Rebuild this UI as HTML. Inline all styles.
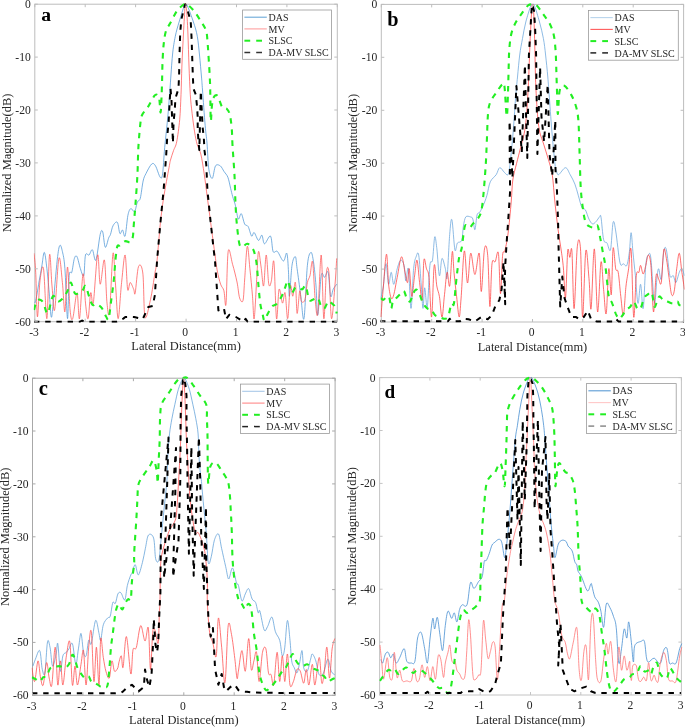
<!DOCTYPE html><html><head><meta charset="utf-8"><style>html,body{margin:0;padding:0;background:#fff;}svg{display:block;will-change:transform}text{font-family:"Liberation Serif",serif;fill:#262626}</style></head><body>
<svg width="685" height="727" viewBox="0 0 685 727">
<rect width="685" height="727" fill="#fff"/>
<g>
<rect x="34.8" y="4.2" width="302.5" height="317.5" fill="none" stroke="#bdbdbd" stroke-width="1"/>
<clipPath id="cpa"><rect x="33.8" y="1.2000000000000002" width="304.5" height="321.5"/></clipPath>
<g clip-path="url(#cpa)" fill="none" stroke-linejoin="round">
<path d="M34.9,303.0C35.2,301.9 35.9,299.9 36.6,296.2C37.3,292.5 38.4,285.7 39.2,280.8C40.1,275.9 40.9,271.7 41.7,267.0C42.6,262.3 43.4,252.1 44.3,252.4C45.2,252.7 46.0,261.4 46.9,268.7C47.8,276.0 48.8,288.2 49.5,296.2C50.2,304.2 50.6,315.1 51.2,316.8C51.8,318.5 51.9,315.9 52.9,306.5C53.9,297.1 56.1,270.3 57.2,260.1C58.4,249.9 58.9,246.9 59.8,245.5C60.7,244.1 61.5,247.6 62.4,251.5C63.2,255.4 64.1,257.5 64.9,268.7C65.8,279.9 66.8,317.5 67.5,318.6C68.2,319.8 68.5,283.3 69.2,275.6C69.9,267.9 70.9,275.1 71.8,272.2C72.7,269.3 73.5,261.0 74.4,258.4C75.3,255.8 76.0,255.0 77.0,256.7C78.0,258.4 79.3,265.5 80.4,268.7C81.5,271.9 83.0,277.9 83.8,275.6C84.6,273.3 84.6,258.4 85.5,255.0C86.4,251.6 87.8,255.9 89.0,255.0C90.2,254.1 91.2,249.0 92.4,249.8C93.6,250.7 94.6,262.7 95.9,260.1C97.2,257.5 99.1,239.1 100.2,234.4C101.3,229.7 101.9,229.7 102.7,231.8C103.5,234.0 104.3,246.3 105.3,247.3C106.3,248.3 107.8,240.0 108.7,237.8C109.6,235.7 109.8,236.4 110.5,234.4C111.2,232.4 111.9,227.8 113.0,225.8C114.1,223.8 116.1,221.0 117.3,222.3C118.5,223.6 119.0,232.2 119.9,233.5C120.8,234.8 121.6,229.6 122.5,230.0C123.4,230.4 124.2,238.4 125.1,236.0C126.0,233.6 127.0,219.9 127.9,215.3C128.9,210.7 129.7,209.2 130.8,208.6C131.9,208.0 133.5,212.6 134.6,211.5C135.7,210.4 136.4,204.2 137.4,202.0C138.4,199.8 139.4,201.7 140.3,198.2C141.2,194.7 142.2,185.2 143.1,181.1C144.0,177.0 144.6,176.3 146.0,173.5C147.4,170.7 150.1,165.3 151.7,164.0C153.3,162.7 154.1,163.7 155.5,165.9C156.9,168.1 159.0,176.0 160.2,177.3C161.4,178.6 161.8,178.9 162.6,173.9C163.3,168.9 163.8,157.5 164.7,147.6C165.6,137.7 167.1,125.0 168.0,114.7C168.9,104.4 169.4,96.0 170.2,86.0C170.9,76.0 171.7,63.3 172.5,55.0C173.3,46.7 174.2,41.8 175.3,36.3C176.4,30.8 177.6,27.0 179.1,22.0C180.6,17.0 183.1,8.9 184.1,6.0C185.1,3.1 184.6,4.4 185.2,4.4C185.8,4.4 186.0,3.1 187.4,6.0C188.8,8.9 191.8,17.0 193.4,22.0C195.1,27.0 196.3,30.8 197.3,36.3C198.3,41.8 198.8,48.2 199.5,55.0C200.2,61.8 201.0,71.2 201.5,77.0C202.0,82.8 201.9,81.9 202.5,90.0C203.1,98.1 204.4,116.9 205.2,125.7C205.9,134.6 206.4,135.8 207.0,143.1C207.6,150.4 208.0,163.8 208.9,169.7C209.8,175.6 211.2,178.9 212.3,178.3C213.4,177.7 214.2,168.0 215.5,165.9C216.8,163.8 218.9,165.0 220.3,165.9C221.7,166.8 222.8,169.7 224.1,171.6C225.4,173.5 226.8,174.5 227.9,177.3C229.0,180.2 229.9,185.5 230.7,188.7C231.5,191.9 231.8,193.5 232.6,196.3C233.4,199.2 234.6,202.0 235.5,205.8C236.4,209.6 237.3,217.7 238.3,219.0C239.3,220.3 240.2,212.8 241.3,213.7C242.4,214.5 243.5,221.9 244.7,224.1C245.8,226.2 247.0,224.6 248.2,226.6C249.3,228.6 250.6,235.1 251.6,236.1C252.6,237.1 253.0,231.9 254.2,232.6C255.3,233.3 257.2,240.0 258.5,240.4C259.8,240.8 260.9,234.6 261.9,235.2C262.9,235.8 263.1,243.7 264.5,243.8C265.9,244.0 269.1,234.8 270.5,236.1C271.9,237.4 272.0,248.9 273.1,251.5C274.2,254.1 275.7,249.9 277.4,251.5C279.1,253.1 281.8,260.7 283.4,261.0C285.0,261.3 285.9,251.4 286.8,253.3C287.7,255.2 288.1,265.1 288.5,272.2C288.9,279.3 288.8,297.3 289.4,296.2C290.0,295.1 291.0,271.9 292.0,265.3C293.0,258.7 294.5,256.1 295.4,256.7C296.2,257.3 296.2,262.4 297.1,268.7C298.0,275.0 299.5,286.2 300.6,294.5C301.8,302.8 302.9,323.5 304.0,318.6C305.1,313.7 306.2,276.3 307.4,265.3C308.5,254.3 309.9,253.0 310.9,252.4C311.9,251.8 312.6,256.3 313.5,261.9C314.4,267.5 315.3,277.0 316.0,285.9C316.7,294.8 316.9,316.8 317.8,315.1C318.7,313.4 320.1,281.9 321.2,275.6C322.3,269.3 323.5,277.9 324.6,277.3C325.8,276.7 327.1,269.1 328.1,272.2C329.1,275.3 329.8,293.3 330.6,296.2C331.5,299.1 332.2,291.3 333.2,289.3C334.2,287.3 336.1,285.1 336.7,284.2" stroke="#4f97d6" stroke-width="0.85" opacity="0.9"/>
<path d="M34.0,253.3C34.3,256.4 35.1,261.6 35.7,272.2C36.3,282.8 36.7,315.4 37.4,316.8C38.1,318.2 39.0,288.8 40.0,280.8C41.0,272.8 42.4,262.4 43.5,268.7C44.6,275.0 45.9,320.9 46.9,318.6C47.9,316.3 48.6,260.4 49.5,255.0C50.4,249.5 51.1,276.7 52.0,285.9C52.9,295.1 53.5,314.6 54.6,310.0C55.8,305.4 57.6,263.0 58.9,258.4C60.2,253.8 61.4,273.6 62.4,282.5C63.4,291.4 64.1,314.3 64.9,311.7C65.8,309.1 66.6,267.3 67.5,267.0C68.4,266.7 69.2,301.4 70.1,310.0C71.0,318.6 71.5,321.5 72.7,318.6C73.9,315.7 75.9,292.8 77.0,292.8C78.1,292.8 78.5,321.8 79.5,318.6C80.5,315.5 82.0,276.5 83.0,273.9C84.0,271.3 84.7,295.7 85.5,303.1C86.3,310.6 87.2,320.3 88.1,318.6C89.0,316.9 89.8,295.4 90.7,292.8C91.6,290.2 92.2,309.4 93.3,303.1C94.4,296.8 96.4,258.1 97.6,255.0C98.8,251.8 99.1,283.3 100.2,284.2C101.3,285.1 103.3,257.0 104.4,260.1C105.5,263.2 106.1,294.5 107.0,303.1C107.9,311.7 108.6,320.0 109.6,311.7C110.6,303.4 112.0,257.6 113.0,253.3C114.0,249.0 114.7,275.0 115.6,285.9C116.5,296.8 117.2,319.2 118.2,318.6C119.2,318.0 120.4,293.1 121.6,282.5C122.8,271.9 124.1,253.9 125.1,255.0C126.1,256.1 126.8,284.7 127.6,289.3C128.4,293.9 129.2,282.5 130.2,282.5C131.2,282.5 132.9,287.6 133.7,289.3C134.5,291.0 134.4,296.7 135.2,292.9C136.0,289.1 137.2,269.9 138.5,266.6C139.8,263.3 141.7,264.6 142.8,273.0C143.9,281.4 143.7,312.6 145.0,317.0C146.3,321.4 148.8,306.8 150.5,299.5C152.2,292.2 153.8,279.8 154.9,273.2C156.0,266.6 156.2,268.4 157.1,260.0C158.0,251.6 159.3,233.1 160.4,222.8C161.5,212.5 162.2,207.2 163.6,198.0C165.0,188.8 167.9,173.6 169.1,167.3C170.2,161.0 169.8,162.8 170.5,160.0C171.2,157.2 172.6,153.4 173.6,150.4C174.6,147.4 175.7,147.0 176.7,141.8C177.7,136.7 179.0,127.3 179.7,119.5C180.4,111.7 180.6,103.6 181.0,94.7C181.4,85.8 181.5,76.3 181.9,66.0C182.3,55.7 183.0,42.9 183.5,33.0C184.0,23.1 184.7,11.4 185.0,6.6C185.3,1.8 185.0,4.4 185.2,4.4C185.4,4.4 185.9,1.8 186.3,6.6C186.8,11.4 187.5,23.1 187.9,33.0C188.3,42.9 188.6,55.7 189.0,66.0C189.4,76.3 189.8,86.8 190.3,94.7C190.8,102.6 191.4,107.1 192.1,113.3C192.8,119.5 193.8,126.8 194.6,131.9C195.4,137.1 196.1,140.5 197.1,144.2C198.1,147.9 199.6,149.1 200.8,154.0C202.0,158.9 203.1,166.6 204.2,173.9C205.3,181.2 206.3,189.8 207.4,198.0C208.5,206.2 209.4,213.2 210.7,222.8C212.0,232.4 214.0,247.7 215.1,255.7C216.2,263.7 216.4,266.2 217.3,271.0C218.2,275.8 219.5,280.9 220.6,284.2C221.7,287.5 223.0,287.4 223.9,290.7C224.8,294.0 225.3,310.6 226.0,304.0C226.7,297.4 227.1,257.9 228.2,251.3C229.3,244.7 231.1,259.3 232.6,264.4C234.1,269.5 235.8,276.4 237.0,282.0C238.2,287.6 238.6,294.8 239.6,297.9C240.6,301.0 242.2,303.6 243.0,300.5C243.8,297.4 244.0,288.0 244.7,279.0C245.4,270.0 246.4,248.1 247.3,246.4C248.2,244.7 249.0,260.4 249.9,268.7C250.8,277.0 251.8,287.9 252.5,296.2C253.2,304.5 253.5,321.8 254.2,318.6C254.9,315.5 256.1,288.5 256.8,277.3C257.5,266.1 257.8,253.2 258.5,251.5C259.2,249.8 260.2,261.3 261.1,267.0C262.0,272.7 262.8,287.9 263.6,285.9C264.5,283.9 265.3,255.3 266.2,255.0C267.1,254.7 267.9,279.9 268.8,284.2C269.7,288.5 270.5,284.5 271.4,280.8C272.2,277.1 273.0,255.6 273.9,261.9C274.8,268.2 275.6,314.0 276.5,318.6C277.4,323.2 278.1,291.9 279.1,289.3C280.1,286.7 281.5,302.5 282.5,303.1C283.5,303.7 284.2,290.2 285.1,292.8C286.0,295.4 286.8,319.8 287.7,318.6C288.6,317.5 289.4,289.6 290.3,285.9C291.2,282.2 292.0,296.8 292.8,296.2C293.6,295.6 294.7,279.6 295.4,282.5C296.1,285.4 296.4,312.0 297.1,313.4C297.8,314.8 299.0,293.0 299.7,291.0C300.4,289.0 300.5,299.9 301.4,301.4C302.3,302.8 303.9,302.8 304.9,299.7C305.9,296.6 306.5,286.5 307.4,282.5C308.2,278.5 309.1,279.0 310.0,275.6C310.9,272.2 311.7,257.9 312.6,261.9C313.5,265.9 314.3,291.1 315.2,299.7C316.1,308.3 316.8,320.8 317.8,313.4C318.8,305.9 320.2,254.1 321.2,255.0C322.2,255.9 322.9,315.5 323.8,318.6C324.7,321.8 325.5,281.6 326.3,273.9C327.1,266.2 328.0,264.8 328.9,272.2C329.8,279.6 330.5,316.3 331.5,318.6C332.5,320.9 334.0,295.9 334.9,285.9C335.8,275.9 336.4,263.0 336.7,258.4" stroke="#ff5252" stroke-width="0.85" opacity="0.88"/>
<path d="M34.0,310.0C34.4,308.6 35.6,303.1 36.6,301.4C37.6,299.7 38.9,299.4 40.0,299.7C41.1,300.0 42.2,300.8 43.5,303.1C44.8,305.4 46.1,314.5 47.7,313.4C49.3,312.2 51.2,298.2 52.9,296.2C54.6,294.2 56.5,301.0 58.1,301.4C59.7,301.8 60.8,300.5 62.4,298.8C64.0,297.1 66.1,293.7 67.5,291.0C68.9,288.3 69.6,282.1 70.9,282.5C72.2,282.9 73.3,292.2 75.2,293.6C77.1,295.0 80.4,292.3 82.1,291.0C83.8,289.7 84.3,285.0 85.5,285.9C86.7,286.8 87.8,293.0 89.0,296.2C90.2,299.4 91.1,303.5 92.4,304.8C93.7,306.1 95.1,303.4 96.7,304.0C98.3,304.6 100.3,306.1 101.9,308.2C103.5,310.3 105.1,315.1 106.2,316.8C107.3,318.5 107.9,321.5 108.7,318.6C109.5,315.8 110.4,306.3 111.3,299.7C112.2,293.1 113.2,285.9 113.9,279.0C114.6,272.1 115.0,263.8 115.6,258.4C116.2,253.0 116.6,248.6 117.3,246.4C118.0,244.2 118.6,246.4 119.9,245.5C121.2,244.6 123.4,241.8 125.1,241.2C126.8,240.6 128.9,242.8 130.2,242.1C131.5,241.4 132.2,239.6 132.8,236.9C133.4,234.2 133.2,231.3 133.7,225.8C134.1,220.3 134.9,212.3 135.5,203.9C136.1,195.5 136.9,184.9 137.4,175.4C137.9,165.9 137.9,155.4 138.4,146.9C138.9,138.4 139.7,129.6 140.3,124.2C140.9,118.8 140.9,117.6 142.2,114.7C143.5,111.8 145.8,110.3 147.9,107.1C150.0,103.9 152.9,97.7 154.5,95.7C156.1,93.7 156.7,94.5 157.5,95.0C158.3,95.5 158.8,96.1 159.3,99.0C159.8,101.9 160.2,112.7 160.6,112.5C161.0,112.3 161.3,101.8 161.5,98.0C161.7,94.2 161.7,93.0 161.8,90.0C161.9,87.0 162.0,84.9 162.1,80.0C162.2,75.1 162.3,66.5 162.6,60.5C162.9,54.5 163.1,49.0 163.7,44.0C164.3,39.0 164.9,34.3 166.0,30.8C167.1,27.3 168.5,26.4 170.3,23.1C172.1,19.8 174.8,14.0 176.9,11.0C179.0,8.0 181.6,6.1 183.0,5.0C184.4,3.9 184.4,4.2 185.2,4.2C186.0,4.2 186.5,3.9 188.0,5.0C189.5,6.1 191.9,8.4 194.0,11.0C196.1,13.6 198.6,17.6 200.6,20.9C202.6,24.2 204.9,26.9 206.1,30.8C207.3,34.6 207.2,39.0 207.7,44.0C208.1,49.0 208.4,54.5 208.8,60.5C209.2,66.5 209.7,74.1 209.9,80.0C210.2,85.9 210.2,88.8 210.3,95.7C210.5,102.6 210.5,119.8 210.8,121.3C211.1,122.8 211.5,109.0 212.0,105.0C212.5,101.0 212.7,99.1 213.6,97.6C214.5,96.0 216.0,94.1 217.4,95.7C218.8,97.3 220.6,104.9 222.2,107.1C223.8,109.3 225.6,107.7 226.9,109.0C228.2,110.3 229.0,111.5 229.8,114.7C230.6,117.9 231.2,122.6 231.7,128.0C232.2,133.4 232.1,139.0 232.6,146.9C233.1,154.8 234.0,165.9 234.5,175.4C235.0,184.9 235.1,195.5 235.5,203.9C235.9,212.3 236.3,219.0 237.0,225.8C237.7,232.6 238.6,241.3 239.6,244.7C240.6,248.1 241.7,246.6 243.0,246.4C244.3,246.2 245.7,243.5 247.3,243.8C248.9,244.1 251.2,246.2 252.5,248.1C253.8,250.0 254.3,252.1 255.0,255.0C255.7,257.9 256.2,260.2 256.8,265.3C257.4,270.4 257.9,279.6 258.5,285.9C259.1,292.2 259.5,298.2 260.2,303.1C260.9,308.0 262.1,312.2 262.8,315.1C263.5,318.0 263.6,320.6 264.5,320.3C265.4,320.0 266.6,315.7 267.9,313.4C269.2,311.1 270.8,308.1 272.2,306.5C273.6,304.9 274.9,305.7 276.5,304.0C278.1,302.3 280.3,298.9 281.7,296.2C283.1,293.5 284.1,290.2 285.1,287.6C286.1,285.0 286.8,280.5 287.7,280.8C288.6,281.1 289.6,287.3 290.3,289.3C291.0,291.3 291.1,293.1 292.0,292.8C292.9,292.5 294.2,288.5 295.4,287.6C296.5,286.7 297.8,287.3 298.9,287.6C300.0,287.9 301.2,289.6 302.3,289.3C303.4,289.0 304.6,284.2 305.7,285.9C306.8,287.6 308.0,297.4 309.2,299.7C310.4,302.0 311.2,300.0 312.6,299.7C314.0,299.4 316.4,296.8 317.8,297.9C319.2,299.0 320.1,304.8 321.2,306.5C322.3,308.2 323.5,309.1 324.6,308.2C325.8,307.3 327.0,302.2 328.1,301.4C329.2,300.5 330.4,302.2 331.5,303.1C332.6,304.0 334.0,304.8 334.9,306.5C335.8,308.2 336.4,312.2 336.7,313.4" stroke="#22ee22" stroke-width="2.1" opacity="1" stroke-dasharray="5.5 5.6"/>
<polyline points="34.0,321.7 80.0,321.7 82.1,320.5 84.0,321.7 116.6,321.7 123.3,318.6 125.3,317.0 130.2,316.8 134.1,317.0 142.8,319.0 148.3,307.0 152.7,306.0 154.9,295.0 157.1,260.0 160.4,222.8 163.6,190.0 166.1,156.6 166.8,144.2 167.4,134.3 168.6,123.2 169.2,110.8 169.8,99.7 170.5,88.6 171.5,100.0 172.9,143.0 173.6,122.0 174.8,109.6 175.4,98.5 178.5,88.6 179.1,75.0 179.5,55.0 180.2,33.0 181.3,19.8 184.6,6.0 185.2,4.4 185.8,5.0 187.4,9.9 190.7,20.9 191.6,38.5 192.3,60.5 192.9,77.0 193.4,88.6 195.8,94.7 197.1,107.0 197.7,117.0 197.7,128.0 198.3,139.3 199.3,150.0 200.8,91.0 201.4,103.4 202.0,114.5 202.6,126.9 203.9,139.3 204.5,150.4 206.3,165.0 207.4,190.0 210.7,222.8 215.1,262.3 218.4,310.4 223.9,308.2 226.0,319.2 229.3,314.8 235.9,317.0 243.6,321.7 245.6,318.8 247.6,321.7 337.0,321.7" stroke="#000000" stroke-width="2.0" opacity="1" stroke-dasharray="5.4 5.8"/>
</g>
<line x1="34.8" y1="321.7" x2="34.8" y2="318.7" stroke="#bdbdbd" stroke-width="1"/>
<line x1="34.8" y1="4.2" x2="34.8" y2="7.2" stroke="#bdbdbd" stroke-width="1"/>
<text x="34.0" y="336.0" font-size="11.6" text-anchor="middle">-3</text>
<line x1="85.2" y1="321.7" x2="85.2" y2="318.7" stroke="#bdbdbd" stroke-width="1"/>
<line x1="85.2" y1="4.2" x2="85.2" y2="7.2" stroke="#bdbdbd" stroke-width="1"/>
<text x="84.4" y="336.0" font-size="11.6" text-anchor="middle">-2</text>
<line x1="135.6" y1="321.7" x2="135.6" y2="318.7" stroke="#bdbdbd" stroke-width="1"/>
<line x1="135.6" y1="4.2" x2="135.6" y2="7.2" stroke="#bdbdbd" stroke-width="1"/>
<text x="134.8" y="336.0" font-size="11.6" text-anchor="middle">-1</text>
<line x1="186.1" y1="321.7" x2="186.1" y2="318.7" stroke="#bdbdbd" stroke-width="1"/>
<line x1="186.1" y1="4.2" x2="186.1" y2="7.2" stroke="#bdbdbd" stroke-width="1"/>
<text x="185.2" y="336.0" font-size="11.6" text-anchor="middle">0</text>
<line x1="236.5" y1="321.7" x2="236.5" y2="318.7" stroke="#bdbdbd" stroke-width="1"/>
<line x1="236.5" y1="4.2" x2="236.5" y2="7.2" stroke="#bdbdbd" stroke-width="1"/>
<text x="235.7" y="336.0" font-size="11.6" text-anchor="middle">1</text>
<line x1="286.9" y1="321.7" x2="286.9" y2="318.7" stroke="#bdbdbd" stroke-width="1"/>
<line x1="286.9" y1="4.2" x2="286.9" y2="7.2" stroke="#bdbdbd" stroke-width="1"/>
<text x="286.1" y="336.0" font-size="11.6" text-anchor="middle">2</text>
<line x1="337.3" y1="321.7" x2="337.3" y2="318.7" stroke="#bdbdbd" stroke-width="1"/>
<line x1="337.3" y1="4.2" x2="337.3" y2="7.2" stroke="#bdbdbd" stroke-width="1"/>
<text x="336.5" y="336.0" font-size="11.6" text-anchor="middle">3</text>
<line x1="34.8" y1="4.2" x2="37.8" y2="4.2" stroke="#bdbdbd" stroke-width="1"/>
<line x1="337.3" y1="4.2" x2="334.3" y2="4.2" stroke="#bdbdbd" stroke-width="1"/>
<text x="30.8" y="8.2" font-size="11.6" text-anchor="end">0</text>
<line x1="34.8" y1="57.1" x2="37.8" y2="57.1" stroke="#bdbdbd" stroke-width="1"/>
<line x1="337.3" y1="57.1" x2="334.3" y2="57.1" stroke="#bdbdbd" stroke-width="1"/>
<text x="30.8" y="61.1" font-size="11.6" text-anchor="end">-10</text>
<line x1="34.8" y1="110.0" x2="37.8" y2="110.0" stroke="#bdbdbd" stroke-width="1"/>
<line x1="337.3" y1="110.0" x2="334.3" y2="110.0" stroke="#bdbdbd" stroke-width="1"/>
<text x="30.8" y="114.0" font-size="11.6" text-anchor="end">-20</text>
<line x1="34.8" y1="162.9" x2="37.8" y2="162.9" stroke="#bdbdbd" stroke-width="1"/>
<line x1="337.3" y1="162.9" x2="334.3" y2="162.9" stroke="#bdbdbd" stroke-width="1"/>
<text x="30.8" y="166.9" font-size="11.6" text-anchor="end">-30</text>
<line x1="34.8" y1="215.9" x2="37.8" y2="215.9" stroke="#bdbdbd" stroke-width="1"/>
<line x1="337.3" y1="215.9" x2="334.3" y2="215.9" stroke="#bdbdbd" stroke-width="1"/>
<text x="30.8" y="219.9" font-size="11.6" text-anchor="end">-40</text>
<line x1="34.8" y1="268.8" x2="37.8" y2="268.8" stroke="#bdbdbd" stroke-width="1"/>
<line x1="337.3" y1="268.8" x2="334.3" y2="268.8" stroke="#bdbdbd" stroke-width="1"/>
<text x="30.8" y="272.8" font-size="11.6" text-anchor="end">-50</text>
<line x1="34.8" y1="321.7" x2="37.8" y2="321.7" stroke="#bdbdbd" stroke-width="1"/>
<line x1="337.3" y1="321.7" x2="334.3" y2="321.7" stroke="#bdbdbd" stroke-width="1"/>
<text x="30.8" y="325.7" font-size="11.6" text-anchor="end">-60</text>
<text x="186.1" y="350.3" font-size="12.45" text-anchor="middle">Lateral Distance(mm)</text>
<text transform="translate(10.8,162.9) rotate(-90)" font-size="12.45" text-anchor="middle">Normalized Magnitude(dB)</text>
<text x="41.3" y="21.2" font-size="19.7" font-weight="bold" style="fill:#000">a</text>
<rect x="242.6" y="10.0" width="88.9" height="49.3" fill="#fff" stroke="#9a9a9a" stroke-width="0.8"/>
<line x1="244.4" y1="17.2" x2="266.8" y2="17.2" stroke="#6aa8d8" stroke-width="1.1"/>
<text x="268.5" y="20.8" font-size="10">DAS</text>
<line x1="244.4" y1="28.9" x2="266.8" y2="28.9" stroke="#ffa0a0" stroke-width="1.1"/>
<text x="268.5" y="32.5" font-size="10">MV</text>
<line x1="244.4" y1="40.7" x2="250.2" y2="40.7" stroke="#22ee22" stroke-width="2.0"/>
<line x1="256.2" y1="40.7" x2="262.0" y2="40.7" stroke="#22ee22" stroke-width="2.0"/>
<text x="268.5" y="44.3" font-size="10">SLSC</text>
<line x1="244.4" y1="52.5" x2="250.2" y2="52.5" stroke="#333333" stroke-width="1.5"/>
<line x1="256.2" y1="52.5" x2="262.0" y2="52.5" stroke="#333333" stroke-width="1.5"/>
<text x="268.5" y="56.1" font-size="10">DA-MV SLSC</text>
<rect x="381.3" y="4.4" width="302.3" height="317.6" fill="none" stroke="#bdbdbd" stroke-width="1"/>
<clipPath id="cpb"><rect x="380.3" y="1.4000000000000004" width="304.3" height="321.6"/></clipPath>
<g clip-path="url(#cpb)" fill="none" stroke-linejoin="round">
<path d="M380.9,298.1C381.3,296.1 382.5,291.7 383.4,286.0C384.2,280.3 385.1,264.0 386.0,263.7C386.9,263.4 387.7,282.9 388.6,284.3C389.5,285.7 390.3,272.3 391.2,272.3C392.1,272.3 392.8,284.9 393.8,284.3C394.8,283.7 396.1,272.8 397.2,268.8C398.3,264.8 399.5,260.8 400.7,260.2C401.9,259.6 403.2,261.9 404.1,265.4C405.0,268.8 405.1,280.3 405.8,280.9C406.5,281.5 407.5,264.2 408.4,268.8C409.3,273.4 410.1,308.4 411.0,308.4C411.9,308.4 412.8,277.4 413.6,268.8C414.5,260.2 415.2,259.1 416.1,256.8C417.0,254.5 417.8,250.2 418.7,255.1C419.6,260.0 420.6,277.1 421.3,286.0C422.0,294.9 422.4,308.1 423.0,308.4C423.6,308.7 424.0,288.1 424.7,287.8C425.4,287.5 426.4,310.4 427.3,306.7C428.2,303.0 429.0,273.1 429.9,265.4C430.8,257.6 431.7,264.9 432.5,260.2C433.3,255.5 434.0,239.0 434.7,237.0C435.4,235.0 436.0,241.8 436.8,248.2C437.6,254.6 438.5,274.0 439.4,275.7C440.3,277.4 441.0,259.6 442.0,258.5C443.0,257.4 444.5,265.7 445.4,268.8C446.2,271.9 446.4,283.1 447.1,277.4C447.8,271.7 448.9,244.0 449.7,234.4C450.5,224.8 451.0,217.2 451.9,219.8C452.8,222.4 454.0,246.0 454.9,249.9C455.8,253.8 456.3,244.6 457.4,243.0C458.5,241.4 460.7,243.2 461.7,240.4C462.7,237.6 462.7,230.1 463.4,226.2C464.1,222.3 464.6,218.4 465.8,216.9C467.0,215.4 469.2,216.6 470.4,216.9C471.6,217.2 472.1,216.9 472.8,219.0C473.6,221.1 474.2,230.4 474.9,229.7C475.6,229.0 476.3,217.7 477.1,214.8C477.9,211.9 478.8,213.8 479.8,212.2C480.8,210.6 482.1,207.9 483.3,205.2C484.5,202.5 485.6,199.7 486.8,195.8C488.0,191.9 488.7,185.3 490.3,181.8C491.9,178.3 494.6,177.0 496.2,174.7C497.8,172.3 498.3,168.1 499.7,167.7C501.1,167.3 503.0,171.2 504.4,172.4C505.8,173.6 507.0,175.9 507.9,174.7C508.8,173.5 509.1,171.6 509.9,165.2C510.7,158.8 511.8,147.5 512.8,136.3C513.8,125.1 514.8,107.7 515.6,97.8C516.4,87.9 516.8,84.1 517.5,77.0C518.2,69.9 518.9,61.4 519.7,55.0C520.5,48.6 521.5,44.0 522.5,38.5C523.5,33.0 524.4,27.4 525.8,22.0C527.2,16.6 529.6,8.9 530.7,6.0C531.8,3.1 531.8,4.4 532.4,4.4C533.0,4.4 533.4,3.1 534.6,6.0C535.8,8.9 538.0,16.6 539.5,22.0C541.0,27.4 542.4,33.0 543.4,38.5C544.4,44.0 544.9,48.6 545.6,55.0C546.3,61.4 547.2,69.9 547.8,77.0C548.4,84.1 548.6,87.9 549.4,97.8C550.1,107.7 551.3,125.1 552.3,136.3C553.2,147.5 554.5,159.6 555.1,165.2C555.8,170.8 555.6,168.4 556.2,170.0C556.8,171.6 557.0,175.1 558.5,174.7C560.0,174.3 563.5,167.7 565.5,167.7C567.5,167.7 568.6,172.0 570.2,174.7C571.8,177.4 573.5,180.6 574.9,184.1C576.3,187.6 577.2,191.9 578.4,195.8C579.6,199.7 580.7,205.2 581.9,207.5C583.1,209.8 584.2,208.0 585.4,209.9C586.6,211.8 587.8,216.9 589.0,219.2C590.2,221.5 591.3,223.5 592.5,223.9C593.7,224.3 594.8,222.8 596.0,221.6C597.2,220.4 598.7,217.6 599.5,216.9C600.3,216.2 600.3,213.4 601.0,217.2C601.7,221.0 602.6,235.3 603.6,239.6C604.6,243.9 605.9,241.3 607.0,243.0C608.1,244.7 609.5,253.3 610.5,249.9C611.5,246.5 612.2,225.6 613.1,222.4C614.0,219.2 614.6,224.3 615.7,231.0C616.9,237.7 618.7,257.4 620.0,262.8C621.3,268.2 622.3,263.3 623.4,263.7C624.5,264.1 625.8,267.4 626.8,265.4C627.8,263.4 628.7,257.1 629.4,251.6C630.1,246.2 630.5,232.7 631.1,232.7C631.7,232.7 632.2,244.4 632.9,251.6C633.6,258.8 634.5,267.1 635.4,275.7C636.2,284.3 637.1,301.9 638.0,303.3C638.9,304.7 639.7,283.5 640.6,284.3C641.5,285.1 642.3,311.5 643.2,308.4C644.1,305.2 644.9,274.3 645.8,265.4C646.6,256.5 647.4,256.2 648.3,255.1C649.1,253.9 649.9,250.5 650.9,258.5C651.9,266.5 653.4,300.2 654.4,303.3C655.4,306.4 656.3,283.1 657.0,277.4C657.7,271.6 658.0,268.5 658.7,268.8C659.4,269.1 660.4,282.1 661.3,279.2C662.1,276.3 662.9,256.5 663.8,251.6C664.6,246.7 665.4,245.9 666.4,249.9C667.4,253.9 668.8,271.4 669.9,275.7C671.0,280.0 672.3,274.5 673.3,275.7C674.3,276.9 674.9,283.2 675.9,282.6C676.9,282.0 678.3,274.6 679.3,272.3C680.3,270.0 681.0,268.2 681.9,268.8C682.8,269.4 684.1,274.6 684.5,275.7" stroke="#6aa6dc" stroke-width="0.85" opacity="0.9"/>
<path d="M380.9,317.0C381.3,311.8 382.5,296.5 383.4,286.0C384.3,275.5 385.6,254.5 386.5,254.2C387.4,253.9 387.8,277.0 388.6,284.3C389.4,291.6 390.3,296.4 391.2,298.1C392.1,299.8 392.8,298.1 393.8,294.6C394.8,291.2 395.9,283.7 397.2,277.4C398.5,271.1 400.2,257.6 401.5,256.8C402.8,256.0 404.0,268.0 405.0,272.3C406.0,276.6 406.8,283.2 407.5,282.6C408.2,282.0 408.6,266.5 409.3,268.8C410.0,271.1 411.0,295.0 411.8,296.4C412.6,297.8 413.5,283.4 414.4,277.4C415.3,271.4 416.1,259.3 417.0,260.2C417.9,261.1 418.7,276.0 419.6,282.6C420.5,289.2 421.5,303.5 422.2,299.8C422.9,296.1 423.2,265.4 423.9,260.2C424.6,255.0 425.6,265.9 426.5,268.8C427.4,271.7 428.1,269.4 429.0,277.4C429.9,285.4 430.7,319.0 431.6,317.0C432.5,315.0 433.3,270.6 434.2,265.4C435.1,260.2 435.9,280.8 436.8,286.0C437.7,291.2 438.5,291.2 439.4,296.4C440.3,301.6 441.1,317.3 442.0,317.0C442.9,316.7 443.6,302.1 444.5,294.6C445.4,287.2 446.2,273.7 447.1,272.3C448.0,270.9 448.8,289.4 449.7,286.0C450.6,282.6 451.6,253.9 452.3,251.6C453.0,249.3 453.3,264.8 454.0,272.3C454.7,279.8 455.7,288.9 456.6,296.4C457.5,303.8 458.4,316.7 459.2,317.0C459.9,317.3 460.2,309.0 461.1,298.0C462.0,287.0 463.2,253.5 464.3,251.0C465.4,248.5 466.4,282.6 467.5,283.0C468.6,283.4 469.5,254.6 470.7,253.2C471.9,251.8 473.5,274.5 474.9,274.5C476.3,274.5 478.1,250.4 479.2,253.2C480.3,256.0 480.4,292.2 481.3,291.5C482.2,290.8 483.4,254.9 484.5,248.9C485.6,242.9 486.8,245.7 487.7,255.3C488.6,264.9 489.2,305.1 489.9,306.5C490.6,307.9 491.1,271.3 492.0,263.8C492.9,256.3 494.1,263.5 495.2,261.7C496.3,259.9 497.5,247.9 498.4,253.2C499.3,258.5 499.8,293.3 500.5,293.7C501.2,294.1 501.9,262.4 502.6,255.3C503.3,248.2 503.9,254.6 504.8,251.0C505.7,247.4 506.9,242.2 508.0,234.0C509.1,225.8 510.4,211.0 511.2,202.0C512.0,193.0 511.9,186.4 512.8,180.0C513.7,173.6 515.3,168.7 516.6,163.3C517.9,158.0 519.0,154.0 520.5,147.9C522.0,141.8 524.0,136.7 525.3,126.7C526.6,116.8 527.4,102.9 528.2,88.2C529.0,73.5 529.6,51.7 530.2,38.5C530.8,25.3 531.4,14.5 531.8,8.8C532.2,3.1 532.1,4.4 532.4,4.4C532.7,4.4 533.1,3.1 533.5,8.8C533.9,14.5 534.2,25.3 534.6,38.5C535.0,51.7 535.2,73.5 535.9,88.2C536.6,102.9 537.5,117.4 538.8,126.7C540.1,136.0 542.0,138.5 543.6,144.0C545.2,149.5 547.0,154.3 548.4,159.5C549.8,164.7 551.2,167.8 552.3,174.9C553.4,182.0 553.9,192.9 554.9,202.0C555.9,211.1 557.0,221.5 558.1,229.7C559.2,237.9 560.4,244.6 561.3,251.0C562.2,257.4 562.7,260.2 563.4,268.0C564.1,275.8 564.8,300.8 565.5,298.0C566.2,295.2 567.0,257.8 567.7,251.0C568.4,244.2 569.1,257.4 569.8,257.4C570.5,257.4 571.2,242.5 571.9,251.0C572.6,259.5 573.2,309.3 574.1,308.6C575.0,307.9 576.2,256.8 577.3,246.8C578.4,236.9 579.6,237.2 580.5,248.9C581.4,260.6 581.7,316.8 582.6,317.1C583.5,317.5 584.7,257.4 585.8,251.0C586.9,244.6 588.1,269.1 589.0,278.7C589.9,288.3 590.2,313.6 591.1,308.6C592.0,303.6 593.2,248.4 594.3,248.9C595.4,249.4 596.5,309.7 597.6,311.9C598.7,314.1 600.0,265.7 601.0,262.0C602.0,258.3 602.7,280.9 603.6,289.5C604.5,298.1 605.3,317.1 606.2,313.6C607.1,310.2 607.9,272.0 608.8,268.8C609.6,265.6 610.6,298.0 611.3,294.6C612.0,291.2 612.4,252.5 613.1,248.2C613.8,243.9 614.9,264.8 615.7,268.8C616.6,272.8 617.4,267.7 618.2,272.3C619.1,276.9 619.9,289.2 620.8,296.4C621.7,303.6 622.5,317.0 623.4,315.3C624.3,313.6 625.1,293.8 626.0,286.0C626.9,278.2 627.8,274.8 628.6,268.8C629.5,262.8 630.2,241.9 631.1,249.9C632.0,257.9 632.8,312.7 633.7,317.0C634.6,321.3 635.4,283.1 636.3,275.7C637.2,268.2 638.2,274.0 638.9,272.3C639.6,270.6 639.9,265.1 640.6,265.4C641.3,265.7 642.3,274.0 643.2,274.0C644.1,274.0 644.9,268.5 645.8,265.4C646.6,262.2 647.4,255.1 648.3,255.1C649.1,255.1 650.0,255.9 650.9,265.4C651.8,274.9 652.6,310.2 653.5,311.9C654.4,313.6 655.2,281.1 656.1,275.7C657.0,270.2 657.8,278.0 658.7,279.2C659.6,280.4 660.4,287.5 661.3,282.6C662.1,277.7 662.9,253.9 663.8,249.9C664.6,245.9 665.5,253.9 666.4,258.5C667.3,263.1 668.1,271.4 669.0,277.4C669.9,283.4 670.7,292.3 671.6,294.6C672.5,296.9 673.4,295.5 674.2,291.2C675.1,286.9 675.9,275.1 676.7,268.8C677.6,262.5 678.4,252.7 679.3,253.3C680.2,253.9 681.0,266.3 681.9,272.3C682.8,278.3 684.1,286.6 684.5,289.5" stroke="#ff3c3c" stroke-width="0.85" opacity="0.88"/>
<path d="M380.9,298.1C381.3,298.4 382.4,300.1 383.4,299.8C384.4,299.5 385.9,296.7 386.9,296.4C387.9,296.1 388.8,296.1 389.5,298.1C390.2,300.1 390.6,307.8 391.2,308.4C391.8,309.0 392.0,303.2 392.9,301.5C393.8,299.8 394.9,299.5 396.3,298.1C397.7,296.7 400.2,294.0 401.5,292.9C402.8,291.8 403.2,290.3 404.1,291.2C405.0,292.1 405.7,296.4 406.7,298.1C407.7,299.8 409.1,302.1 410.1,301.5C411.1,300.9 411.7,296.6 412.7,294.6C413.7,292.6 415.0,289.5 416.1,289.5C417.2,289.5 418.5,292.3 419.6,294.6C420.8,296.9 421.7,301.0 423.0,303.3C424.3,305.6 425.9,307.3 427.3,308.4C428.7,309.5 430.3,309.0 431.6,310.1C432.9,311.2 433.8,314.2 435.1,315.3C436.4,316.4 437.8,316.4 439.4,317.0C441.0,317.6 443.1,318.7 444.5,318.7C445.9,318.7 447.0,319.0 448.0,317.0C449.0,315.0 449.9,309.0 450.6,306.7C451.3,304.4 451.7,303.9 452.3,303.3C452.9,302.7 453.3,307.6 454.0,303.3C454.7,299.0 455.7,285.1 456.6,277.4C457.5,269.6 458.4,261.7 459.2,256.8C460.0,251.9 461.0,251.9 461.7,248.2C462.4,244.5 462.9,238.2 463.5,234.4C464.1,230.6 464.3,226.5 465.3,225.4C466.3,224.3 468.4,227.8 469.6,227.6C470.9,227.3 471.5,225.3 472.8,223.9C474.1,222.5 476.1,221.1 477.5,219.2C478.9,217.2 480.0,216.1 481.0,212.2C482.0,208.3 482.5,203.6 483.3,195.8C484.1,188.0 485.1,174.4 485.7,165.4C486.3,156.4 486.4,150.6 486.8,142.0C487.2,133.4 487.4,120.6 488.0,113.9C488.6,107.2 488.9,105.6 490.3,102.1C491.7,98.6 494.2,95.7 496.2,92.8C498.1,89.9 500.6,85.8 502.0,84.6C503.4,83.4 503.6,80.5 504.4,85.8C505.2,91.1 506.1,114.7 506.7,116.2C507.3,117.7 507.6,103.4 507.9,95.0C508.2,86.6 508.5,73.6 508.7,66.0C508.9,58.4 508.9,54.6 509.3,49.5C509.7,44.4 510.1,39.4 511.0,35.2C511.9,31.0 513.0,27.9 514.8,24.2C516.6,20.5 519.8,16.3 522.0,13.2C524.2,10.1 526.3,7.0 528.0,5.5C529.7,4.0 530.9,4.4 532.4,4.4C533.9,4.4 535.0,3.9 536.8,5.5C538.6,7.2 541.2,11.2 543.4,14.3C545.6,17.4 548.3,20.7 550.0,24.2C551.7,27.7 552.9,31.0 553.8,35.2C554.7,39.4 555.1,44.4 555.5,49.5C555.9,54.6 556.0,59.6 556.2,66.0C556.4,72.4 556.6,80.0 556.9,88.0C557.2,96.0 557.3,113.5 557.8,113.9C558.3,114.3 558.6,95.1 559.7,90.4C560.8,85.7 562.5,85.0 564.4,85.8C566.3,86.6 569.4,91.6 571.4,95.1C573.4,98.6 574.9,102.5 576.1,106.8C577.3,111.1 577.8,113.1 578.4,120.9C579.0,128.7 579.2,142.4 579.6,153.7C580.0,165.0 580.2,179.4 580.8,188.8C581.4,198.2 582.3,204.4 583.1,209.9C583.9,215.4 584.4,218.9 585.4,221.6C586.4,224.3 587.5,225.2 589.0,226.2C590.5,227.2 592.9,227.7 594.3,227.6C595.7,227.5 596.6,224.1 597.6,225.8C598.6,227.5 599.4,233.6 600.2,237.9C601.1,242.2 601.9,247.0 602.7,251.6C603.6,256.2 604.6,260.5 605.3,265.4C606.0,270.3 606.4,275.7 607.0,280.9C607.6,286.1 607.9,292.7 608.8,296.4C609.7,300.1 611.1,300.4 612.2,303.3C613.4,306.2 614.6,311.0 615.7,313.6C616.9,316.2 618.0,318.4 619.1,318.7C620.2,319.0 621.4,316.7 622.5,315.3C623.6,313.9 624.7,311.5 626.0,310.1C627.3,308.7 629.0,308.1 630.3,306.7C631.6,305.3 632.6,301.2 633.7,301.5C634.9,301.8 636.1,307.2 637.2,308.4C638.4,309.5 639.5,310.1 640.6,308.4C641.7,306.7 642.9,300.4 644.0,298.1C645.1,295.8 646.2,295.5 647.5,294.6C648.8,293.7 650.6,290.9 651.8,292.9C652.9,294.9 653.5,305.3 654.4,306.7C655.3,308.1 656.1,303.2 657.0,301.5C657.9,299.8 658.5,296.7 659.5,296.4C660.5,296.1 661.6,298.9 662.9,299.8C664.2,300.7 665.8,300.9 667.3,301.5C668.8,302.1 670.5,303.0 671.6,303.3C672.8,303.6 673.2,303.6 674.2,303.3C675.2,303.0 676.8,301.2 677.6,301.5C678.5,301.8 678.2,304.4 679.3,305.0C680.4,305.6 683.2,305.0 684.0,305.0" stroke="#22ee22" stroke-width="2.1" opacity="1" stroke-dasharray="5.5 5.6"/>
<polyline points="380.0,321.3 448.0,321.3 449.7,318.7 451.5,321.3 460.0,321.3 462.6,318.7 468.5,319.3 474.9,321.4 481.3,317.1 487.7,319.3 492.0,315.0 495.2,306.5 499.4,300.0 501.6,289.4 503.5,262.0 505.2,304.3 504.8,283.0 505.2,266.0 506.5,244.6 508.0,223.3 510.1,191.3 509.8,160.0 509.5,121.0 512.4,178.0 516.4,86.0 521.8,152.0 524.9,65.0 526.0,113.0 527.3,158.0 528.9,55.0 531.8,6.0 532.4,4.4 534.0,11.0 535.1,27.5 536.1,55.0 537.4,154.0 540.1,67.5 541.5,117.0 544.1,141.8 547.7,84.5 549.5,154.0 552.2,176.0 555.3,120.4 555.5,170.0 557.0,191.3 558.1,223.3 558.5,244.6 559.1,266.0 560.2,306.5 562.3,276.6 564.5,298.0 566.6,304.3 569.8,312.9 571.9,317.1 576.2,317.1 579.4,319.3 583.7,317.1 587.9,310.7 591.1,319.3 596.5,321.4 613.0,321.4 615.7,318.7 618.4,321.4 684.0,321.4" stroke="#000000" stroke-width="2.0" opacity="1" stroke-dasharray="5.4 5.8"/>
</g>
<line x1="381.3" y1="322.0" x2="381.3" y2="319.0" stroke="#bdbdbd" stroke-width="1"/>
<line x1="381.3" y1="4.4" x2="381.3" y2="7.4" stroke="#bdbdbd" stroke-width="1"/>
<text x="380.5" y="336.3" font-size="11.6" text-anchor="middle">-3</text>
<line x1="431.7" y1="322.0" x2="431.7" y2="319.0" stroke="#bdbdbd" stroke-width="1"/>
<line x1="431.7" y1="4.4" x2="431.7" y2="7.4" stroke="#bdbdbd" stroke-width="1"/>
<text x="430.9" y="336.3" font-size="11.6" text-anchor="middle">-2</text>
<line x1="482.1" y1="322.0" x2="482.1" y2="319.0" stroke="#bdbdbd" stroke-width="1"/>
<line x1="482.1" y1="4.4" x2="482.1" y2="7.4" stroke="#bdbdbd" stroke-width="1"/>
<text x="481.3" y="336.3" font-size="11.6" text-anchor="middle">-1</text>
<line x1="532.5" y1="322.0" x2="532.5" y2="319.0" stroke="#bdbdbd" stroke-width="1"/>
<line x1="532.5" y1="4.4" x2="532.5" y2="7.4" stroke="#bdbdbd" stroke-width="1"/>
<text x="531.7" y="336.3" font-size="11.6" text-anchor="middle">0</text>
<line x1="582.8" y1="322.0" x2="582.8" y2="319.0" stroke="#bdbdbd" stroke-width="1"/>
<line x1="582.8" y1="4.4" x2="582.8" y2="7.4" stroke="#bdbdbd" stroke-width="1"/>
<text x="582.0" y="336.3" font-size="11.6" text-anchor="middle">1</text>
<line x1="633.2" y1="322.0" x2="633.2" y2="319.0" stroke="#bdbdbd" stroke-width="1"/>
<line x1="633.2" y1="4.4" x2="633.2" y2="7.4" stroke="#bdbdbd" stroke-width="1"/>
<text x="632.4" y="336.3" font-size="11.6" text-anchor="middle">2</text>
<line x1="683.6" y1="322.0" x2="683.6" y2="319.0" stroke="#bdbdbd" stroke-width="1"/>
<line x1="683.6" y1="4.4" x2="683.6" y2="7.4" stroke="#bdbdbd" stroke-width="1"/>
<text x="682.8" y="336.3" font-size="11.6" text-anchor="middle">3</text>
<line x1="381.3" y1="4.4" x2="384.3" y2="4.4" stroke="#bdbdbd" stroke-width="1"/>
<line x1="683.6" y1="4.4" x2="680.6" y2="4.4" stroke="#bdbdbd" stroke-width="1"/>
<text x="377.3" y="8.4" font-size="11.6" text-anchor="end">0</text>
<line x1="381.3" y1="57.3" x2="384.3" y2="57.3" stroke="#bdbdbd" stroke-width="1"/>
<line x1="683.6" y1="57.3" x2="680.6" y2="57.3" stroke="#bdbdbd" stroke-width="1"/>
<text x="377.3" y="61.3" font-size="11.6" text-anchor="end">-10</text>
<line x1="381.3" y1="110.3" x2="384.3" y2="110.3" stroke="#bdbdbd" stroke-width="1"/>
<line x1="683.6" y1="110.3" x2="680.6" y2="110.3" stroke="#bdbdbd" stroke-width="1"/>
<text x="377.3" y="114.3" font-size="11.6" text-anchor="end">-20</text>
<line x1="381.3" y1="163.2" x2="384.3" y2="163.2" stroke="#bdbdbd" stroke-width="1"/>
<line x1="683.6" y1="163.2" x2="680.6" y2="163.2" stroke="#bdbdbd" stroke-width="1"/>
<text x="377.3" y="167.2" font-size="11.6" text-anchor="end">-30</text>
<line x1="381.3" y1="216.1" x2="384.3" y2="216.1" stroke="#bdbdbd" stroke-width="1"/>
<line x1="683.6" y1="216.1" x2="680.6" y2="216.1" stroke="#bdbdbd" stroke-width="1"/>
<text x="377.3" y="220.1" font-size="11.6" text-anchor="end">-40</text>
<line x1="381.3" y1="269.1" x2="384.3" y2="269.1" stroke="#bdbdbd" stroke-width="1"/>
<line x1="683.6" y1="269.1" x2="680.6" y2="269.1" stroke="#bdbdbd" stroke-width="1"/>
<text x="377.3" y="273.1" font-size="11.6" text-anchor="end">-50</text>
<line x1="381.3" y1="322.0" x2="384.3" y2="322.0" stroke="#bdbdbd" stroke-width="1"/>
<line x1="683.6" y1="322.0" x2="680.6" y2="322.0" stroke="#bdbdbd" stroke-width="1"/>
<text x="377.3" y="326.0" font-size="11.6" text-anchor="end">-60</text>
<text x="532.5" y="350.6" font-size="12.45" text-anchor="middle">Lateral Distance(mm)</text>
<text transform="translate(357.3,163.2) rotate(-90)" font-size="12.45" text-anchor="middle">Normalized Magnitude(dB)</text>
<text x="387.3" y="25.8" font-size="20.3" font-weight="bold" style="fill:#000">b</text>
<rect x="588.6" y="10.4" width="89.69999999999993" height="49.800000000000004" fill="#fff" stroke="#9a9a9a" stroke-width="0.8"/>
<line x1="590.4" y1="17.6" x2="612.8" y2="17.6" stroke="#b8d4ec" stroke-width="1.1"/>
<text x="614.5" y="21.2" font-size="10">DAS</text>
<line x1="590.4" y1="29.4" x2="612.8" y2="29.4" stroke="#ff5a5a" stroke-width="1.1"/>
<text x="614.5" y="33.0" font-size="10">MV</text>
<line x1="590.4" y1="41.1" x2="596.2" y2="41.1" stroke="#22ee22" stroke-width="2.0"/>
<line x1="602.2" y1="41.1" x2="608.0" y2="41.1" stroke="#22ee22" stroke-width="2.0"/>
<text x="614.5" y="44.7" font-size="10">SLSC</text>
<line x1="590.4" y1="52.9" x2="596.2" y2="52.9" stroke="#222222" stroke-width="1.5"/>
<line x1="602.2" y1="52.9" x2="608.0" y2="52.9" stroke="#222222" stroke-width="1.5"/>
<text x="614.5" y="56.5" font-size="10">DA-MV SLSC</text>
<rect x="32.5" y="378.2" width="302.6" height="317.09999999999997" fill="none" stroke="#a8a8a8" stroke-width="1"/>
<clipPath id="cpc"><rect x="31.5" y="375.2" width="304.6" height="321.09999999999997"/></clipPath>
<g clip-path="url(#cpc)" fill="none" stroke-linejoin="round">
<path d="M32.9,666.1C33.3,665.0 34.3,661.8 35.4,659.2C36.5,656.6 38.6,648.9 39.7,650.6C40.9,652.3 41.4,665.8 42.3,669.5C43.2,673.2 44.0,677.5 44.9,672.9C45.8,668.3 46.6,646.3 47.5,642.0C48.4,637.7 49.1,643.2 50.0,647.2C50.9,651.2 51.6,665.0 52.6,666.1C53.6,667.2 55.2,657.7 56.1,654.0C57.0,650.3 57.1,640.8 57.8,643.7C58.5,646.6 59.5,669.2 60.4,671.2C61.2,673.2 61.9,658.9 62.9,655.8C63.9,652.6 65.4,653.4 66.4,652.3C67.4,651.1 67.9,650.3 68.9,648.9C69.9,647.5 71.2,641.1 72.4,643.7C73.6,646.3 74.8,663.4 75.8,664.3C76.8,665.2 77.5,654.0 78.4,648.9C79.3,643.8 80.2,632.8 81.0,633.4C81.8,634.0 82.7,648.6 83.5,652.3C84.3,656.0 85.2,657.8 86.1,655.8C87.0,653.8 87.8,642.3 88.7,640.3C89.6,638.3 90.2,647.0 91.3,643.7C92.4,640.4 94.3,622.2 95.6,620.5C96.9,618.8 98.2,630.1 99.0,633.4C99.8,636.7 100.0,641.7 100.7,640.3C101.4,638.9 102.2,628.5 103.3,624.8C104.4,621.1 106.4,619.4 107.6,618.0C108.8,616.6 109.3,618.8 110.2,616.2C111.1,613.6 112.0,604.6 112.8,602.5C113.6,600.4 114.4,604.8 115.3,603.4C116.2,602.0 117.0,595.7 117.9,593.9C118.8,592.1 119.8,591.8 120.9,592.8C122.1,593.8 123.7,601.1 124.8,599.9C125.9,598.6 126.4,589.4 127.4,585.3C128.4,581.1 130.0,577.1 130.8,575.0C131.6,572.9 131.4,574.5 132.1,572.8C132.8,571.1 134.2,564.4 135.2,564.7C136.2,565.1 137.1,575.2 138.3,574.9C139.5,574.5 141.2,567.0 142.4,562.6C143.6,558.2 144.4,552.9 145.4,548.3C146.4,543.7 147.1,536.7 148.5,535.0C149.9,533.3 152.4,534.2 153.6,538.1C154.8,542.0 154.8,554.8 155.6,558.5C156.4,562.2 157.8,563.3 158.7,560.6C159.6,557.9 160.0,550.4 160.8,542.2C161.7,534.0 162.8,521.7 163.8,511.5C164.8,501.3 166.2,490.3 166.9,480.9C167.6,471.4 167.5,462.6 167.9,454.8C168.3,447.0 168.8,439.9 169.5,433.9C170.2,427.9 171.0,423.6 171.9,418.7C172.8,413.8 173.7,409.6 174.8,404.7C175.9,399.8 177.0,393.8 178.3,389.5C179.6,385.2 181.5,380.9 182.4,379.0C183.3,377.1 183.0,377.8 183.5,377.8C184.0,377.8 184.3,377.1 185.3,379.0C186.3,380.9 188.1,385.2 189.4,389.5C190.7,393.8 191.8,399.8 192.9,404.7C194.0,409.6 194.9,413.8 195.8,418.7C196.7,423.6 197.6,427.9 198.1,433.9C198.6,439.9 198.6,448.7 198.9,454.8C199.2,460.9 199.7,466.6 200.1,470.7C200.5,474.8 200.8,474.4 201.3,479.5C201.8,484.6 202.4,492.6 203.2,501.3C204.0,510.1 205.3,521.8 206.2,532.0C207.0,542.2 207.5,558.5 208.3,562.6C209.2,566.7 210.3,560.2 211.3,556.5C212.3,552.8 213.2,543.9 214.4,540.1C215.6,536.4 217.3,532.6 218.5,534.0C219.7,535.4 220.4,542.8 221.6,548.3C222.8,553.8 224.5,561.6 225.7,566.7C226.9,571.8 227.6,578.8 228.7,579.0C229.8,579.2 231.2,567.3 232.5,568.0C233.8,568.7 235.5,580.1 236.5,583.0C237.5,585.9 237.5,582.3 238.4,585.3C239.3,588.3 240.8,599.4 241.9,600.8C243.1,602.2 244.2,595.9 245.3,593.9C246.4,591.9 247.5,587.8 248.7,588.7C249.8,589.6 251.0,596.8 252.2,599.1C253.3,601.4 254.6,600.2 255.6,602.5C256.6,604.8 257.5,611.4 258.2,612.8C258.9,614.2 258.9,608.2 259.9,611.1C260.9,614.0 262.9,627.4 264.2,630.0C265.5,632.6 266.3,628.6 267.6,626.5C268.9,624.4 270.6,616.2 271.9,617.1C273.2,618.0 274.1,627.8 275.4,631.7C276.7,635.6 278.5,636.3 279.7,640.3C280.9,644.3 281.4,654.6 282.3,655.8C283.2,656.9 284.0,653.1 284.8,647.2C285.6,641.3 286.5,621.6 287.4,620.5C288.3,619.4 289.3,633.6 290.0,640.3C290.7,647.0 291.0,656.3 291.7,660.9C292.4,665.5 293.4,665.8 294.3,667.8C295.2,669.8 296.0,673.5 296.9,672.9C297.8,672.3 298.5,668.0 299.4,664.3C300.2,660.6 301.3,650.0 302.0,650.6C302.7,651.2 302.8,664.4 303.7,667.8C304.6,671.2 306.0,672.6 307.2,671.2C308.4,669.8 309.8,662.1 310.6,659.2C311.5,656.3 311.4,653.7 312.3,654.0C313.2,654.3 314.7,657.4 315.8,660.9C316.9,664.4 317.9,672.7 319.2,674.7C320.5,676.7 322.1,675.5 323.5,672.9C324.9,670.3 326.5,659.5 327.8,659.2C329.1,658.9 330.1,668.6 331.2,671.2C332.3,673.8 334.1,674.1 334.7,674.7" stroke="#5f9fd8" stroke-width="0.85" opacity="0.9"/>
<path d="M32.0,667.8C32.4,670.1 33.6,682.6 34.6,681.5C35.6,680.4 37.0,661.5 38.0,660.9C39.0,660.3 39.7,674.1 40.6,678.1C41.5,682.1 42.2,687.6 43.2,685.0C44.2,682.4 45.6,663.8 46.6,662.6C47.6,661.5 48.3,674.4 49.2,678.1C50.1,681.8 50.8,690.1 51.8,685.0C52.8,679.9 54.2,647.2 55.2,647.2C56.2,647.2 56.9,682.7 57.8,685.0C58.7,687.3 59.5,660.9 60.4,660.9C61.2,660.9 61.9,685.9 62.9,685.0C63.9,684.1 65.2,663.0 66.4,655.8C67.6,648.6 68.8,637.1 69.8,642.0C70.8,646.9 71.5,681.0 72.4,685.0C73.3,689.0 74.2,666.1 75.0,666.1C75.8,666.1 76.5,685.3 77.5,685.0C78.5,684.7 80.0,670.0 81.0,664.3C82.0,658.6 82.7,647.1 83.5,650.6C84.3,654.1 85.2,685.6 86.1,685.0C87.0,684.4 87.8,656.1 88.7,647.2C89.6,638.3 90.4,626.0 91.3,631.7C92.2,637.4 93.1,678.9 93.9,681.5C94.8,684.1 95.6,646.6 96.4,647.2C97.2,647.8 98.3,686.4 99.0,685.0C99.7,683.6 100.0,643.2 100.7,638.6C101.4,634.0 102.4,652.1 103.3,657.5C104.2,662.9 104.9,667.8 105.9,671.2C106.9,674.6 108.3,679.8 109.3,678.1C110.3,676.4 111.0,662.0 111.9,660.9C112.8,659.8 113.5,670.1 114.5,671.2C115.5,672.4 117.2,669.2 117.9,667.8C118.6,666.4 118.2,664.9 118.8,662.9C119.4,660.9 120.6,655.1 121.3,655.8C122.0,656.5 122.2,670.5 123.1,667.3C123.9,664.1 125.1,635.5 126.4,636.6C127.7,637.7 129.7,671.7 130.8,673.9C131.9,676.1 132.1,654.2 133.0,649.8C133.9,645.4 135.0,651.6 136.3,647.6C137.6,643.6 139.2,626.8 140.7,625.7C142.1,624.6 143.7,640.6 145.0,641.0C146.3,641.4 147.4,623.1 148.3,627.9C149.2,632.6 149.8,668.8 150.5,669.5C151.2,670.2 152.0,638.9 152.7,632.3C153.4,625.7 154.0,628.3 154.9,630.1C155.8,631.9 157.5,645.8 158.2,643.2C158.9,640.6 159.0,621.9 159.3,614.7C159.6,607.5 159.8,608.1 160.0,600.0C160.2,591.9 160.2,574.2 160.6,566.0C161.0,557.8 161.3,556.7 162.7,551.0C164.1,545.3 166.8,536.8 168.9,531.6C171.0,526.4 173.9,524.5 175.3,520.0C176.7,515.5 176.5,514.1 177.2,504.3C177.9,494.5 179.1,471.4 179.7,461.0C180.3,450.6 180.2,451.0 180.6,442.0C180.9,433.0 181.4,417.1 181.8,407.0C182.2,396.9 182.7,386.2 183.0,381.3C183.3,376.4 183.3,377.8 183.5,377.8C183.7,377.8 183.8,376.4 184.1,381.3C184.4,386.2 184.9,396.9 185.3,407.0C185.7,417.1 186.1,433.0 186.5,442.0C186.9,451.0 187.1,451.3 187.7,461.0C188.3,470.7 189.0,488.2 190.2,500.0C191.4,511.8 193.6,526.1 195.0,531.6C196.4,537.1 197.0,530.3 198.5,533.0C200.0,535.7 202.8,543.2 204.0,548.0C205.2,552.8 205.4,556.2 206.0,562.0C206.6,567.8 207.2,575.6 207.4,582.6C207.6,589.6 207.0,595.5 207.4,603.8C207.8,612.1 208.7,625.7 209.6,632.3C210.5,638.9 211.8,639.2 212.9,643.2C214.0,647.2 215.3,660.5 216.2,656.3C217.1,652.1 217.5,619.5 218.4,618.0C219.3,616.5 220.6,636.8 221.7,647.6C222.8,658.4 223.9,686.2 225.0,682.6C226.1,679.0 227.1,633.7 228.2,625.7C229.3,617.7 230.4,628.9 231.5,634.4C232.6,639.9 233.9,651.2 234.8,658.5C235.7,665.8 236.4,676.1 237.0,678.2C237.6,680.3 237.6,675.8 238.4,671.2C239.2,666.6 240.8,650.6 241.9,650.6C243.1,650.6 244.2,673.2 245.3,671.2C246.4,669.2 247.7,638.9 248.7,638.6C249.7,638.3 250.4,665.8 251.3,669.5C252.2,673.2 253.0,663.8 253.9,660.9C254.8,658.0 255.6,648.9 256.5,652.3C257.4,655.7 258.1,681.5 259.1,681.5C260.1,681.5 261.4,657.7 262.5,652.3C263.6,646.9 264.9,645.5 265.9,648.9C266.9,652.3 267.6,668.6 268.5,672.9C269.4,677.2 270.2,672.7 271.1,674.7C272.0,676.7 272.7,688.7 273.7,685.0C274.7,681.3 276.1,652.9 277.1,652.3C278.1,651.7 278.8,680.9 279.7,681.5C280.6,682.1 281.4,655.8 282.3,655.8C283.2,655.8 284.0,681.8 284.8,681.5C285.6,681.2 286.5,653.4 287.4,654.0C288.3,654.6 289.0,680.4 290.0,685.0C291.0,689.6 292.2,684.1 293.4,681.5C294.5,678.9 295.8,671.2 296.9,669.5C298.0,667.8 299.2,668.9 300.3,671.2C301.4,673.5 302.7,683.5 303.7,683.2C304.7,682.9 305.4,669.2 306.3,669.5C307.2,669.8 307.9,685.9 308.9,685.0C309.9,684.1 311.3,664.3 312.3,664.3C313.3,664.3 313.8,686.1 314.9,685.0C316.0,683.9 318.0,657.8 319.2,657.5C320.4,657.2 320.9,680.9 321.8,683.2C322.7,685.5 323.5,677.2 324.3,671.2C325.1,665.2 326.0,646.1 326.9,647.2C327.8,648.4 328.6,677.8 329.5,678.1C330.4,678.4 331.2,655.5 332.1,648.9C333.0,642.3 334.3,640.3 334.7,638.6" stroke="#ff4848" stroke-width="0.85" opacity="0.88"/>
<path d="M32.0,677.2C32.6,677.5 34.1,678.3 35.4,679.0C36.7,679.7 38.4,681.8 39.7,681.5C41.0,681.2 42.1,678.1 43.2,677.2C44.4,676.4 45.5,677.8 46.6,676.4C47.7,675.0 48.7,670.2 50.0,668.6C51.3,667.0 52.7,667.3 54.3,666.9C55.9,666.5 57.8,666.0 59.5,666.1C61.2,666.2 63.0,668.1 64.6,667.8C66.2,667.5 67.6,666.4 68.9,664.3C70.2,662.1 71.4,655.8 72.4,654.9C73.4,654.0 74.2,657.1 75.0,659.2C75.8,661.4 76.4,665.2 77.5,667.8C78.6,670.4 80.5,673.0 81.8,674.7C83.1,676.4 84.1,677.8 85.3,678.1C86.5,678.4 87.7,675.8 88.7,676.4C89.7,677.0 90.2,680.4 91.3,681.5C92.4,682.6 94.0,682.3 95.6,683.2C97.2,684.1 99.1,686.0 100.7,686.7C102.3,687.4 103.8,687.8 105.0,687.5C106.2,687.2 106.9,688.0 107.6,685.0C108.3,682.0 108.7,675.8 109.3,669.5C109.9,663.2 110.4,653.2 111.0,647.2C111.6,641.2 112.2,638.0 112.8,633.4C113.4,628.8 113.9,623.7 114.5,619.7C115.1,615.7 115.5,612.0 116.2,609.4C116.9,606.8 117.8,604.2 118.8,604.2C119.8,604.2 121.1,609.7 122.2,609.4C123.3,609.1 124.6,604.2 125.6,602.5C126.6,600.8 127.3,599.6 128.2,599.1C129.1,598.6 130.2,602.3 130.8,599.4C131.4,596.5 131.4,587.7 131.9,581.9C132.4,576.1 133.7,569.3 134.1,564.4C134.5,559.5 133.8,559.5 134.2,552.4C134.5,545.3 135.7,530.2 136.2,521.7C136.7,513.2 137.0,507.4 137.3,501.3C137.7,495.2 137.5,489.1 138.3,485.0C139.2,480.9 140.5,479.9 142.4,476.8C144.3,473.7 147.6,469.3 149.5,466.6C151.4,463.9 152.4,459.7 153.6,460.4C154.8,461.1 156.0,466.9 156.7,470.7C157.4,474.4 157.4,484.6 157.7,482.9C158.0,481.2 158.4,467.5 158.7,460.4C159.0,453.2 159.4,447.5 159.7,440.0C159.9,432.5 159.8,421.3 160.2,415.2C160.6,409.1 160.5,407.1 161.9,403.5C163.3,399.9 166.2,396.9 168.4,393.6C170.6,390.3 172.9,386.3 174.8,383.7C176.7,381.1 178.6,378.8 180.0,377.8C181.4,376.8 182.3,377.8 183.5,377.8C184.7,377.8 185.4,376.6 187.0,377.8C188.6,379.0 190.8,381.9 192.9,384.8C195.1,387.7 197.7,392.1 199.9,395.4C202.1,398.7 205.1,400.8 206.3,404.7C207.5,408.6 206.7,413.4 206.9,418.7C207.1,423.9 207.4,429.2 207.5,436.2C207.6,443.1 207.6,452.4 207.7,460.4C207.8,468.3 207.9,482.9 208.3,483.9C208.7,484.9 209.1,470.2 210.3,466.6C211.5,463.0 213.5,461.8 215.4,462.5C217.3,463.2 219.6,467.6 221.6,470.7C223.6,473.8 226.3,477.2 227.7,480.9C229.0,484.6 229.2,488.0 229.7,493.1C230.2,498.2 230.5,505.0 230.8,511.5C231.2,518.0 231.5,523.9 231.8,532.0C232.1,540.1 232.1,551.7 232.6,560.0C233.1,568.3 233.8,575.4 234.8,581.9C235.8,588.4 237.2,595.4 238.4,599.1C239.6,602.8 240.8,602.5 241.9,604.2C243.1,605.9 244.3,609.4 245.3,609.4C246.3,609.4 247.0,604.8 247.9,604.2C248.8,603.6 249.8,603.9 250.5,605.9C251.2,607.9 251.6,611.6 252.2,616.2C252.8,620.8 253.2,628.0 253.9,633.4C254.6,638.8 255.6,642.6 256.5,648.9C257.4,655.2 258.2,665.8 259.1,671.2C260.0,676.6 260.5,678.4 261.6,681.5C262.7,684.6 264.3,689.2 265.9,690.1C267.5,691.0 269.5,688.1 271.1,686.7C272.7,685.3 274.1,683.2 275.4,681.5C276.7,679.8 277.6,678.1 278.8,676.4C280.0,674.7 281.2,672.6 282.3,671.2C283.4,669.8 284.6,669.5 285.7,667.8C286.8,666.1 288.0,663.2 289.1,660.9C290.2,658.6 291.6,654.3 292.6,654.0C293.6,653.7 294.1,657.5 295.1,659.2C296.1,660.9 297.3,663.1 298.6,664.3C299.9,665.4 301.5,666.1 302.9,666.1C304.3,666.1 305.8,664.0 307.2,664.3C308.6,664.6 310.1,666.9 311.5,667.8C312.9,668.7 314.5,668.9 315.8,669.5C317.1,670.1 318.2,670.3 319.2,671.2C320.2,672.1 320.9,673.8 321.8,674.7C322.7,675.6 323.3,675.3 324.3,676.4C325.3,677.5 326.7,680.9 327.8,681.5C328.9,682.1 330.1,680.4 331.2,679.8C332.3,679.2 334.1,678.4 334.7,678.1" stroke="#22ee22" stroke-width="2.1" opacity="1" stroke-dasharray="5.5 5.6"/>
<polyline points="32.0,693.2 115.0,693.2 121.3,692.7 123.1,691.4 127.5,687.0 131.9,684.8 138.5,691.4 143.9,687.0 145.0,669.5 147.2,680.4 149.4,687.0 151.6,673.9 153.2,640.0 153.8,619.1 155.5,645.0 157.1,652.0 158.2,643.2 159.3,614.7 160.4,592.8 160.6,560.0 161.1,516.7 168.5,437.4 167.3,480.0 166.0,520.0 164.0,578.0 170.0,530.0 176.0,448.0 175.3,492.0 173.0,577.0 178.5,541.0 180.3,479.0 180.6,418.7 181.2,395.4 183.0,380.2 183.5,377.8 184.1,380.0 185.3,383.7 186.5,395.4 186.5,418.7 187.0,442.0 187.7,492.0 188.9,553.7 191.4,447.0 192.1,510.0 193.7,575.7 198.9,437.0 200.2,480.0 201.2,534.0 203.9,589.0 206.0,507.0 206.3,560.0 207.4,592.8 208.5,621.3 210.7,636.6 212.9,627.9 214.0,647.6 215.1,669.5 218.4,684.8 221.7,673.9 223.9,687.0 226.0,691.4 230.4,687.0 234.8,684.8 238.4,690.1 241.4,691.4 247.0,691.8 252.3,692.5 283.0,693.0 284.8,691.8 286.5,693.0 335.0,693.0" stroke="#000000" stroke-width="2.0" opacity="1" stroke-dasharray="5.4 5.8"/>
</g>
<line x1="32.5" y1="695.3" x2="32.5" y2="692.3" stroke="#a8a8a8" stroke-width="1"/>
<line x1="32.5" y1="378.2" x2="32.5" y2="381.2" stroke="#a8a8a8" stroke-width="1"/>
<text x="31.7" y="709.6" font-size="11.6" text-anchor="middle">-3</text>
<line x1="82.9" y1="695.3" x2="82.9" y2="692.3" stroke="#a8a8a8" stroke-width="1"/>
<line x1="82.9" y1="378.2" x2="82.9" y2="381.2" stroke="#a8a8a8" stroke-width="1"/>
<text x="82.1" y="709.6" font-size="11.6" text-anchor="middle">-2</text>
<line x1="133.4" y1="695.3" x2="133.4" y2="692.3" stroke="#a8a8a8" stroke-width="1"/>
<line x1="133.4" y1="378.2" x2="133.4" y2="381.2" stroke="#a8a8a8" stroke-width="1"/>
<text x="132.6" y="709.6" font-size="11.6" text-anchor="middle">-1</text>
<line x1="183.8" y1="695.3" x2="183.8" y2="692.3" stroke="#a8a8a8" stroke-width="1"/>
<line x1="183.8" y1="378.2" x2="183.8" y2="381.2" stroke="#a8a8a8" stroke-width="1"/>
<text x="183.0" y="709.6" font-size="11.6" text-anchor="middle">0</text>
<line x1="234.2" y1="695.3" x2="234.2" y2="692.3" stroke="#a8a8a8" stroke-width="1"/>
<line x1="234.2" y1="378.2" x2="234.2" y2="381.2" stroke="#a8a8a8" stroke-width="1"/>
<text x="233.4" y="709.6" font-size="11.6" text-anchor="middle">1</text>
<line x1="284.7" y1="695.3" x2="284.7" y2="692.3" stroke="#a8a8a8" stroke-width="1"/>
<line x1="284.7" y1="378.2" x2="284.7" y2="381.2" stroke="#a8a8a8" stroke-width="1"/>
<text x="283.9" y="709.6" font-size="11.6" text-anchor="middle">2</text>
<line x1="335.1" y1="695.3" x2="335.1" y2="692.3" stroke="#a8a8a8" stroke-width="1"/>
<line x1="335.1" y1="378.2" x2="335.1" y2="381.2" stroke="#a8a8a8" stroke-width="1"/>
<text x="334.3" y="709.6" font-size="11.6" text-anchor="middle">3</text>
<line x1="32.5" y1="378.2" x2="35.5" y2="378.2" stroke="#a8a8a8" stroke-width="1"/>
<line x1="335.1" y1="378.2" x2="332.1" y2="378.2" stroke="#a8a8a8" stroke-width="1"/>
<text x="28.5" y="382.2" font-size="11.6" text-anchor="end">0</text>
<line x1="32.5" y1="431.0" x2="35.5" y2="431.0" stroke="#a8a8a8" stroke-width="1"/>
<line x1="335.1" y1="431.0" x2="332.1" y2="431.0" stroke="#a8a8a8" stroke-width="1"/>
<text x="28.5" y="435.0" font-size="11.6" text-anchor="end">-10</text>
<line x1="32.5" y1="483.9" x2="35.5" y2="483.9" stroke="#a8a8a8" stroke-width="1"/>
<line x1="335.1" y1="483.9" x2="332.1" y2="483.9" stroke="#a8a8a8" stroke-width="1"/>
<text x="28.5" y="487.9" font-size="11.6" text-anchor="end">-20</text>
<line x1="32.5" y1="536.8" x2="35.5" y2="536.8" stroke="#a8a8a8" stroke-width="1"/>
<line x1="335.1" y1="536.8" x2="332.1" y2="536.8" stroke="#a8a8a8" stroke-width="1"/>
<text x="28.5" y="540.8" font-size="11.6" text-anchor="end">-30</text>
<line x1="32.5" y1="589.6" x2="35.5" y2="589.6" stroke="#a8a8a8" stroke-width="1"/>
<line x1="335.1" y1="589.6" x2="332.1" y2="589.6" stroke="#a8a8a8" stroke-width="1"/>
<text x="28.5" y="593.6" font-size="11.6" text-anchor="end">-40</text>
<line x1="32.5" y1="642.4" x2="35.5" y2="642.4" stroke="#a8a8a8" stroke-width="1"/>
<line x1="335.1" y1="642.4" x2="332.1" y2="642.4" stroke="#a8a8a8" stroke-width="1"/>
<text x="28.5" y="646.4" font-size="11.6" text-anchor="end">-50</text>
<line x1="32.5" y1="695.3" x2="35.5" y2="695.3" stroke="#a8a8a8" stroke-width="1"/>
<line x1="335.1" y1="695.3" x2="332.1" y2="695.3" stroke="#a8a8a8" stroke-width="1"/>
<text x="28.5" y="699.3" font-size="11.6" text-anchor="end">-60</text>
<text x="183.8" y="723.9" font-size="12.45" text-anchor="middle">Lateral Distance(mm)</text>
<text transform="translate(8.5,536.8) rotate(-90)" font-size="12.45" text-anchor="middle">Normalized Magnitude(dB)</text>
<text x="38.7" y="394.6" font-size="20.6" font-weight="bold" style="fill:#000">c</text>
<rect x="240.4" y="384.1" width="89.20000000000002" height="49.299999999999955" fill="#fff" stroke="#9a9a9a" stroke-width="0.8"/>
<line x1="242.2" y1="391.3" x2="264.6" y2="391.3" stroke="#a8c8e8" stroke-width="1.1"/>
<text x="266.3" y="394.9" font-size="10">DAS</text>
<line x1="242.2" y1="403.1" x2="264.6" y2="403.1" stroke="#ff8888" stroke-width="1.1"/>
<text x="266.3" y="406.7" font-size="10">MV</text>
<line x1="242.2" y1="414.8" x2="248.0" y2="414.8" stroke="#22ee22" stroke-width="2.0"/>
<line x1="254.0" y1="414.8" x2="259.8" y2="414.8" stroke="#22ee22" stroke-width="2.0"/>
<text x="266.3" y="418.4" font-size="10">SLSC</text>
<line x1="242.2" y1="426.6" x2="248.0" y2="426.6" stroke="#222222" stroke-width="1.5"/>
<line x1="254.0" y1="426.6" x2="259.8" y2="426.6" stroke="#222222" stroke-width="1.5"/>
<text x="266.3" y="430.2" font-size="10">DA-MV SLSC</text>
<rect x="379.6" y="377.6" width="301.79999999999995" height="317.4" fill="none" stroke="#c4c4c4" stroke-width="1"/>
<clipPath id="cpd"><rect x="378.6" y="374.6" width="303.79999999999995" height="321.4"/></clipPath>
<g clip-path="url(#cpd)" fill="none" stroke-linejoin="round">
<path d="M380.9,659.5C381.2,660.1 381.9,663.9 382.7,663.0C383.4,662.1 384.5,655.9 385.4,654.1C386.3,652.3 387.2,651.7 388.1,652.3C389.0,652.9 389.8,657.4 390.7,657.7C391.6,658.0 392.5,653.2 393.4,654.1C394.3,655.0 395.1,662.4 396.1,663.0C397.2,663.6 398.4,660.1 399.7,657.7C401.0,655.3 403.0,648.1 404.2,648.7C405.4,649.3 405.6,658.9 406.8,661.3C408.0,663.7 410.0,663.0 411.3,663.0C412.6,663.0 413.8,665.5 414.9,661.3C415.9,657.1 416.6,642.8 417.6,638.0C418.7,633.2 420.0,630.8 421.2,632.6C422.4,634.4 423.7,643.6 424.7,648.7C425.7,653.8 426.5,664.8 427.4,663.0C428.3,661.2 429.2,645.5 430.1,638.0C431.0,630.5 432.1,619.8 432.8,618.3C433.6,616.8 433.9,629.1 434.6,629.0C435.4,628.9 436.4,616.5 437.3,617.4C438.2,618.3 439.0,628.9 439.9,634.4C440.8,639.9 441.7,652.0 442.6,650.5C443.5,649.0 444.4,632.0 445.3,625.5C446.2,619.0 446.9,612.4 448.0,611.2C449.1,610.0 450.6,618.0 451.6,618.3C452.7,618.6 453.4,612.3 454.3,612.9C455.2,613.5 456.0,622.5 456.9,621.9C457.8,621.3 458.7,612.2 459.6,609.4C460.5,606.5 461.1,605.6 462.3,604.8C463.5,604.0 465.6,608.5 467.0,604.8C468.4,601.1 469.3,585.3 470.5,582.6C471.7,579.9 472.6,588.6 474.0,588.4C475.4,588.2 477.3,583.3 478.7,581.4C480.1,579.5 481.3,580.0 482.2,576.7C483.1,573.4 483.6,564.1 484.3,561.4C485.0,558.7 485.5,561.8 486.3,560.5C487.1,559.2 488.2,556.3 489.2,553.7C490.1,551.1 491.1,547.0 492.0,545.1C492.9,543.2 493.8,543.2 494.9,542.2C496.0,541.2 497.7,539.3 498.8,539.3C499.9,539.3 500.7,539.2 501.7,542.2C502.7,545.2 503.8,557.0 504.6,557.6C505.4,558.2 505.7,552.8 506.5,546.0C507.3,539.2 508.4,528.3 509.4,517.1C510.4,505.9 511.3,491.5 512.3,478.6C513.3,465.8 514.4,448.8 515.2,440.0C516.1,431.2 516.6,430.8 517.4,425.7C518.2,420.6 518.8,414.8 519.8,409.4C520.8,403.9 521.8,398.1 523.3,393.0C524.8,387.9 527.3,381.5 528.5,379.0C529.7,376.5 529.6,377.8 530.3,377.8C531.0,377.8 531.3,376.5 532.6,379.0C533.9,381.5 536.4,387.9 537.9,393.0C539.4,398.1 540.4,403.9 541.4,409.4C542.4,414.8 543.1,420.6 543.7,425.7C544.3,430.8 544.4,433.0 544.9,440.0C545.4,447.0 546.2,458.3 546.9,467.5C547.6,476.7 548.3,485.8 549.0,495.0C549.7,504.2 550.2,514.1 551.0,522.6C551.8,531.1 552.8,540.2 553.5,546.0C554.2,551.8 554.2,557.9 555.0,557.6C555.8,557.3 557.1,547.0 558.3,544.1C559.5,541.2 560.9,540.6 562.2,540.2C563.5,539.8 565.3,540.7 566.3,541.7C567.3,542.7 567.0,544.5 568.0,546.0C569.0,547.5 571.1,548.4 572.2,551.0C573.3,553.6 573.9,559.0 574.7,561.4C575.5,563.8 576.4,563.5 576.9,565.1C577.4,566.7 577.2,569.2 578.0,571.1C578.8,573.0 579.9,573.4 581.5,576.7C583.1,580.0 585.8,589.6 587.4,590.8C589.0,592.0 590.1,584.6 590.9,583.8C591.7,583.0 591.4,583.9 592.0,586.1C592.6,588.3 593.7,594.1 594.7,596.8C595.8,599.5 597.3,599.8 598.3,602.2C599.3,604.6 600.0,607.0 600.9,611.2C601.8,615.4 602.7,628.5 603.6,627.3C604.5,626.1 605.2,607.3 606.3,604.0C607.3,600.7 608.7,605.5 609.9,607.6C611.1,609.7 612.5,613.2 613.5,616.5C614.5,619.8 615.3,619.5 616.2,627.3C617.1,635.0 617.9,659.4 618.8,663.0C619.7,666.6 620.6,654.4 621.5,648.7C622.4,643.0 623.3,630.8 624.2,629.0C625.1,627.2 626.1,639.2 626.9,638.0C627.6,636.8 628.0,621.1 628.7,621.9C629.5,622.7 630.6,636.0 631.4,642.7C632.2,649.4 632.8,661.5 633.4,662.0C634.0,662.5 633.5,648.9 634.8,645.5C636.1,642.1 639.4,642.1 641.0,641.4C642.6,640.7 643.5,638.6 644.4,641.4C645.3,644.1 645.8,654.5 646.5,657.9C647.2,661.3 647.3,662.0 648.6,662.0C649.9,662.0 652.2,658.0 654.1,658.2C656.0,658.4 658.6,664.7 660.2,663.4C661.8,662.1 662.7,652.9 663.7,650.3C664.7,647.7 665.7,647.2 666.4,647.6C667.1,648.0 667.3,649.8 667.8,652.4C668.3,655.0 668.7,661.6 669.5,663.4C670.3,665.2 671.4,663.1 672.5,663.0C673.6,662.9 674.9,665.4 676.1,663.0C677.3,660.6 678.7,652.0 679.7,648.7C680.7,645.4 681.6,644.3 682.0,643.4" stroke="#3f8ad0" stroke-width="0.85" opacity="0.9"/>
<path d="M380.0,645.1C380.3,648.1 381.2,657.3 381.8,663.0C382.4,668.7 382.7,680.0 383.6,679.1C384.5,678.2 386.2,658.0 387.2,657.7C388.2,657.4 388.9,674.1 389.8,677.4C390.7,680.7 391.8,681.6 392.5,677.4C393.2,673.2 393.6,652.3 394.3,652.3C395.1,652.3 396.1,674.4 397.0,677.4C397.9,680.4 398.8,669.6 399.7,670.2C400.6,670.8 401.2,679.1 402.4,680.9C403.6,682.7 405.3,680.9 406.8,680.9C408.3,680.9 410.1,683.0 411.3,680.9C412.5,678.8 413.1,668.4 414.0,668.4C414.9,668.4 415.8,679.1 416.7,680.9C417.6,682.7 418.5,681.8 419.4,679.1C420.3,676.4 421.1,665.1 422.0,664.8C422.9,664.5 423.8,677.1 424.7,677.4C425.6,677.7 426.5,666.0 427.4,666.6C428.3,667.2 429.2,680.9 430.1,680.9C431.0,680.9 431.9,666.9 432.8,666.6C433.7,666.3 434.6,680.9 435.5,679.1C436.4,677.3 437.3,659.2 438.2,655.9C439.1,652.6 439.9,655.9 440.8,659.5C441.7,663.1 442.8,676.8 443.5,677.4C444.2,678.0 444.6,667.2 445.3,663.0C446.1,658.8 447.2,655.3 448.0,652.3C448.8,649.3 449.2,643.9 449.8,645.1C450.4,646.3 451.0,656.5 451.6,659.5C452.2,662.5 452.8,662.7 453.4,663.0C454.0,663.3 454.5,660.1 455.1,661.3C455.7,662.5 456.1,668.1 456.9,670.2C457.6,672.3 458.7,672.3 459.6,673.8C460.5,675.3 461.4,678.8 462.3,679.1C463.2,679.4 464.2,680.4 465.0,675.6C465.8,670.8 466.2,659.8 466.8,650.5C467.4,641.2 468.0,622.6 468.6,620.1C469.2,617.6 469.8,626.1 470.5,635.2C471.2,644.3 472.1,667.5 472.9,674.9C473.7,682.3 474.2,679.6 475.2,679.6C476.2,679.6 477.7,676.5 478.7,674.9C479.7,673.3 480.2,679.2 481.0,670.2C481.8,661.2 482.6,626.2 483.4,621.1C484.2,616.0 484.9,633.6 485.7,639.8C486.5,646.0 487.2,656.5 488.0,658.5C488.8,660.5 489.6,654.2 490.4,651.5C491.2,648.8 491.9,643.0 492.7,642.2C493.5,641.4 494.3,640.6 495.1,646.8C495.9,653.0 496.6,679.6 497.4,679.6C498.2,679.6 498.9,658.9 499.7,646.8C500.5,634.7 501.3,614.9 502.1,607.1C502.9,599.3 503.6,605.2 504.4,600.1C505.2,595.0 505.7,584.5 506.7,576.7C507.7,568.9 509.3,558.7 510.2,553.4C511.1,548.1 511.1,548.8 512.0,545.0C512.9,541.2 514.3,534.5 515.3,530.8C516.3,527.1 516.9,525.8 518.0,522.6C519.1,519.4 521.2,516.2 522.2,511.6C523.2,507.0 523.6,502.4 524.2,495.0C524.8,487.6 525.1,476.7 525.6,467.5C526.1,458.3 526.5,450.1 527.0,440.0C527.5,429.9 528.0,416.8 528.5,407.0C529.0,397.2 529.4,386.2 529.7,381.3C530.0,376.4 530.1,377.8 530.3,377.8C530.5,377.8 530.6,376.4 530.9,381.3C531.2,386.2 531.5,396.1 532.0,407.0C532.5,417.9 533.4,436.6 533.8,446.7C534.2,456.8 534.0,459.4 534.5,467.5C535.0,475.6 535.7,487.2 536.6,495.0C537.5,502.8 538.7,509.2 540.0,514.3C541.3,519.3 543.1,521.8 544.2,525.3C545.4,528.8 545.9,530.3 546.9,535.0C547.9,539.7 549.1,546.4 550.0,553.4C550.9,560.4 551.5,568.9 552.3,576.7C553.1,584.5 553.6,594.2 554.6,600.1C555.6,606.0 557.0,605.9 558.2,611.8C559.4,617.6 560.5,630.1 561.7,635.2C562.9,640.3 564.2,639.1 565.2,642.2C566.2,645.3 566.7,651.2 567.5,653.9C568.3,656.6 568.8,660.5 569.8,658.5C570.8,656.5 572.1,647.2 573.3,642.2C574.5,637.2 575.9,623.5 576.9,628.2C577.9,632.9 578.4,661.6 579.2,670.2C580.0,678.8 580.7,682.7 581.5,679.6C582.3,676.5 583.1,657.0 583.9,651.5C584.7,646.0 585.4,642.1 586.2,646.8C587.0,651.5 587.7,683.5 588.5,679.6C589.3,675.7 590.1,634.0 590.9,623.5C591.7,613.0 592.4,610.5 593.2,616.5C594.0,622.5 594.9,649.1 595.6,659.5C596.3,669.9 596.5,675.5 597.4,679.1C598.3,682.7 599.9,684.2 600.9,680.9C601.9,677.6 602.7,665.8 603.6,659.5C604.5,653.2 605.5,644.3 606.3,643.4C607.0,642.5 607.4,654.4 608.1,654.1C608.9,653.8 609.9,638.9 610.8,641.6C611.7,644.3 612.6,663.7 613.5,670.2C614.4,676.8 615.3,684.8 616.2,680.9C617.1,677.0 617.9,648.8 618.8,647.0C619.7,645.2 620.6,668.7 621.5,670.2C622.4,671.7 623.3,655.9 624.2,655.9C625.1,655.9 626.0,669.3 626.9,670.2C627.8,671.1 629.1,661.5 629.6,661.3C630.1,661.1 629.7,665.7 630.0,668.9C630.3,672.1 630.9,681.0 631.4,680.5C631.9,680.0 631.9,668.6 632.7,666.1C633.5,663.6 635.4,664.0 636.2,665.4C637.0,666.8 637.2,671.9 637.6,674.4C638.0,676.9 638.3,679.4 638.9,680.5C639.5,681.6 640.2,681.8 641.0,681.2C641.8,680.6 642.8,677.2 643.7,677.1C644.6,677.0 645.7,682.9 646.5,680.5C647.3,678.1 647.9,663.0 648.6,662.7C649.3,662.4 650.0,675.5 650.6,678.5C651.2,681.5 651.4,681.1 652.0,680.5C652.6,679.9 653.4,675.1 654.1,675.1C654.8,675.1 655.4,679.5 656.1,680.5C656.8,681.5 657.5,684.1 658.2,681.2C658.9,678.4 659.3,668.2 660.2,663.4C661.1,658.6 662.7,652.9 663.7,652.4C664.7,651.9 665.7,656.9 666.4,660.6C667.1,664.3 667.3,671.1 667.8,674.4C668.3,677.7 668.4,679.4 669.2,680.5C670.0,681.6 671.4,680.8 672.5,680.9C673.6,681.0 674.9,685.1 676.1,680.9C677.3,676.7 678.7,661.6 679.7,655.9C680.7,650.2 681.6,648.4 682.0,646.9" stroke="#ff6a6a" stroke-width="0.85" opacity="0.88"/>
<path d="M380.0,680.9C380.6,680.0 382.2,677.4 383.6,675.6C385.0,673.8 386.9,671.1 388.1,670.2C389.3,669.3 389.7,670.5 390.7,670.2C391.7,669.9 393.1,667.8 394.3,668.4C395.5,669.0 396.8,673.2 397.9,673.8C398.9,674.4 399.3,673.0 400.6,672.0C401.9,671.0 404.4,667.8 405.9,667.5C407.4,667.2 408.3,669.3 409.5,670.2C410.7,671.1 412.1,672.8 413.1,672.9C414.2,673.0 414.8,671.5 415.8,671.1C416.9,670.7 418.1,670.1 419.4,670.2C420.7,670.4 422.5,671.1 423.8,672.0C425.1,672.9 426.0,674.3 427.4,675.6C428.8,676.9 430.5,678.5 431.9,680.0C433.2,681.5 434.3,683.1 435.5,684.5C436.7,685.9 437.7,687.5 439.0,688.1C440.3,688.7 442.0,687.2 443.5,688.1C445.0,689.0 446.8,693.5 448.0,693.5C449.2,693.5 449.8,692.0 450.7,688.1C451.6,684.2 452.7,675.6 453.4,670.2C454.1,664.8 454.5,660.7 455.1,655.9C455.7,651.1 456.3,646.4 456.9,641.6C457.5,636.8 458.1,631.5 458.7,627.3C459.3,623.1 459.9,619.2 460.5,616.5C461.1,613.8 461.7,612.2 462.3,611.2C462.9,610.2 463.3,610.0 464.1,610.3C464.9,610.6 465.9,613.0 467.0,613.0C468.1,613.0 468.9,611.8 470.5,610.6C472.1,609.4 474.8,607.8 476.4,606.0C478.0,604.2 479.2,605.3 479.9,600.1C480.6,594.9 480.2,582.4 480.5,575.0C480.8,567.6 481.1,563.8 481.4,555.7C481.7,547.7 482.0,534.7 482.4,526.7C482.8,518.7 483.5,513.3 484.0,507.5C484.5,501.7 484.8,496.4 485.3,492.0C485.8,487.6 486.2,484.1 487.2,481.4C488.2,478.7 489.8,477.1 491.1,475.7C492.4,474.3 493.4,474.9 494.9,472.8C496.3,470.7 498.5,463.6 499.8,463.1C501.1,462.6 501.7,466.1 502.5,470.0C503.3,473.9 504.1,486.5 504.6,486.3C505.1,486.1 505.2,476.6 505.5,468.9C505.8,461.2 506.3,447.4 506.5,440.0C506.7,432.6 506.7,429.3 506.9,424.6C507.1,419.9 506.8,415.6 507.5,411.7C508.2,407.8 509.2,404.9 511.0,401.2C512.8,397.5 515.7,393.0 518.0,389.5C520.3,386.0 523.0,382.1 525.0,380.2C527.0,378.2 528.5,377.8 530.3,377.8C532.0,377.8 533.5,378.4 535.5,380.2C537.5,382.0 540.5,385.3 542.6,388.4C544.8,391.5 546.9,395.8 548.4,398.9C549.9,402.0 551.0,403.3 551.9,407.0C552.8,410.7 553.2,415.5 553.6,421.0C554.0,426.5 554.3,432.0 554.5,440.0C554.7,448.0 554.9,461.2 555.0,468.9C555.1,476.6 555.1,485.8 555.4,486.3C555.7,486.8 556.4,475.9 557.0,472.0C557.6,468.1 557.9,463.1 559.3,463.1C560.6,463.1 563.5,470.0 565.1,471.8C566.7,473.6 567.6,472.2 568.9,473.7C570.2,475.1 571.8,477.8 572.8,480.5C573.8,483.2 574.1,485.6 574.7,490.1C575.3,494.6 575.7,501.4 576.2,507.5C576.7,513.6 577.2,518.7 577.6,526.7C578.0,534.7 578.2,547.7 578.6,555.7C579.0,563.8 579.6,567.6 580.1,575.0C580.6,582.4 580.7,594.9 581.5,600.1C582.3,605.3 583.4,604.0 585.0,606.0C586.6,608.0 589.3,611.0 590.9,611.8C592.5,612.6 593.6,611.1 594.4,610.6C595.2,610.1 594.8,607.8 595.6,608.5C596.4,609.2 598.2,610.7 599.2,614.7C600.2,618.7 600.9,626.6 601.8,632.6C602.7,638.6 603.6,643.6 604.5,650.5C605.4,657.4 606.3,667.5 607.2,673.8C608.1,680.1 608.9,685.1 609.9,688.1C610.9,691.1 612.0,692.0 613.5,691.7C615.0,691.4 617.0,688.4 618.8,686.3C620.6,684.2 622.4,680.6 624.2,679.1C626.0,677.6 628.3,678.2 629.6,677.4C630.9,676.6 630.9,675.1 632.1,674.4C633.3,673.7 635.5,674.4 636.9,673.0C638.3,671.6 639.3,666.7 640.3,666.1C641.3,665.5 642.3,668.7 643.1,669.6C643.9,670.5 644.0,671.5 645.1,671.6C646.2,671.7 648.9,669.9 649.9,670.2C650.9,670.6 650.7,674.3 651.3,673.7C651.9,673.1 652.5,668.6 653.4,666.8C654.3,665.0 655.9,662.2 656.8,662.7C657.7,663.2 658.3,667.8 658.9,669.6C659.5,671.4 659.4,672.3 660.2,673.7C661.0,675.1 662.6,677.1 663.7,677.8C664.9,678.5 666.2,679.1 667.1,677.8C668.0,676.5 668.6,671.8 669.2,670.2C669.8,668.6 669.6,667.2 670.7,668.4C671.9,669.6 674.6,675.3 676.1,677.4C677.6,679.5 678.7,680.0 679.7,680.9C680.7,681.8 681.6,682.4 682.0,682.7" stroke="#22ee22" stroke-width="2.1" opacity="1" stroke-dasharray="5.5 5.6"/>
<polyline points="380.0,693.1 426.0,693.1 427.4,691.7 429.0,693.1 460.5,693.1 462.3,691.7 469.3,691.3 474.0,691.3 478.7,688.9 485.7,692.4 490.4,691.3 495.1,684.2 497.4,674.9 500.9,663.2 502.1,635.2 503.2,611.8 505.6,576.7 507.5,507.5 510.0,550.0 515.3,440.0 517.5,520.0 518.5,467.0 520.8,565.0 522.7,421.0 524.8,500.0 526.8,442.0 527.4,395.4 528.5,381.3 530.3,377.8 532.6,383.7 533.2,395.4 533.4,418.7 533.8,442.0 534.6,508.8 537.9,419.9 539.0,480.0 540.6,551.0 542.0,470.0 545.5,437.0 546.5,500.0 547.5,520.0 549.3,474.0 550.5,530.0 552.3,553.4 554.6,588.4 557.0,623.5 559.3,646.8 558.2,665.5 560.5,623.5 562.8,670.2 566.3,679.6 569.8,688.9 574.5,691.3 579.2,688.9 586.2,686.6 590.9,691.3 595.5,693.0 681.5,693.0" stroke="#000000" stroke-width="2.0" opacity="1" stroke-dasharray="5.4 5.8"/>
</g>
<line x1="379.6" y1="695.0" x2="379.6" y2="692.0" stroke="#c4c4c4" stroke-width="1"/>
<line x1="379.6" y1="377.6" x2="379.6" y2="380.6" stroke="#c4c4c4" stroke-width="1"/>
<text x="378.8" y="709.3" font-size="11.6" text-anchor="middle">-3</text>
<line x1="429.9" y1="695.0" x2="429.9" y2="692.0" stroke="#c4c4c4" stroke-width="1"/>
<line x1="429.9" y1="377.6" x2="429.9" y2="380.6" stroke="#c4c4c4" stroke-width="1"/>
<text x="429.1" y="709.3" font-size="11.6" text-anchor="middle">-2</text>
<line x1="480.2" y1="695.0" x2="480.2" y2="692.0" stroke="#c4c4c4" stroke-width="1"/>
<line x1="480.2" y1="377.6" x2="480.2" y2="380.6" stroke="#c4c4c4" stroke-width="1"/>
<text x="479.4" y="709.3" font-size="11.6" text-anchor="middle">-1</text>
<line x1="530.5" y1="695.0" x2="530.5" y2="692.0" stroke="#c4c4c4" stroke-width="1"/>
<line x1="530.5" y1="377.6" x2="530.5" y2="380.6" stroke="#c4c4c4" stroke-width="1"/>
<text x="529.7" y="709.3" font-size="11.6" text-anchor="middle">0</text>
<line x1="580.8" y1="695.0" x2="580.8" y2="692.0" stroke="#c4c4c4" stroke-width="1"/>
<line x1="580.8" y1="377.6" x2="580.8" y2="380.6" stroke="#c4c4c4" stroke-width="1"/>
<text x="580.0" y="709.3" font-size="11.6" text-anchor="middle">1</text>
<line x1="631.1" y1="695.0" x2="631.1" y2="692.0" stroke="#c4c4c4" stroke-width="1"/>
<line x1="631.1" y1="377.6" x2="631.1" y2="380.6" stroke="#c4c4c4" stroke-width="1"/>
<text x="630.3" y="709.3" font-size="11.6" text-anchor="middle">2</text>
<line x1="681.4" y1="695.0" x2="681.4" y2="692.0" stroke="#c4c4c4" stroke-width="1"/>
<line x1="681.4" y1="377.6" x2="681.4" y2="380.6" stroke="#c4c4c4" stroke-width="1"/>
<text x="680.6" y="709.3" font-size="11.6" text-anchor="middle">3</text>
<line x1="379.6" y1="377.6" x2="382.6" y2="377.6" stroke="#c4c4c4" stroke-width="1"/>
<line x1="681.4" y1="377.6" x2="678.4" y2="377.6" stroke="#c4c4c4" stroke-width="1"/>
<text x="375.6" y="381.6" font-size="11.6" text-anchor="end">0</text>
<line x1="379.6" y1="430.5" x2="382.6" y2="430.5" stroke="#c4c4c4" stroke-width="1"/>
<line x1="681.4" y1="430.5" x2="678.4" y2="430.5" stroke="#c4c4c4" stroke-width="1"/>
<text x="375.6" y="434.5" font-size="11.6" text-anchor="end">-10</text>
<line x1="379.6" y1="483.4" x2="382.6" y2="483.4" stroke="#c4c4c4" stroke-width="1"/>
<line x1="681.4" y1="483.4" x2="678.4" y2="483.4" stroke="#c4c4c4" stroke-width="1"/>
<text x="375.6" y="487.4" font-size="11.6" text-anchor="end">-20</text>
<line x1="379.6" y1="536.3" x2="382.6" y2="536.3" stroke="#c4c4c4" stroke-width="1"/>
<line x1="681.4" y1="536.3" x2="678.4" y2="536.3" stroke="#c4c4c4" stroke-width="1"/>
<text x="375.6" y="540.3" font-size="11.6" text-anchor="end">-30</text>
<line x1="379.6" y1="589.2" x2="382.6" y2="589.2" stroke="#c4c4c4" stroke-width="1"/>
<line x1="681.4" y1="589.2" x2="678.4" y2="589.2" stroke="#c4c4c4" stroke-width="1"/>
<text x="375.6" y="593.2" font-size="11.6" text-anchor="end">-40</text>
<line x1="379.6" y1="642.1" x2="382.6" y2="642.1" stroke="#c4c4c4" stroke-width="1"/>
<line x1="681.4" y1="642.1" x2="678.4" y2="642.1" stroke="#c4c4c4" stroke-width="1"/>
<text x="375.6" y="646.1" font-size="11.6" text-anchor="end">-50</text>
<line x1="379.6" y1="695.0" x2="382.6" y2="695.0" stroke="#c4c4c4" stroke-width="1"/>
<line x1="681.4" y1="695.0" x2="678.4" y2="695.0" stroke="#c4c4c4" stroke-width="1"/>
<text x="375.6" y="699.0" font-size="11.6" text-anchor="end">-60</text>
<text x="530.5" y="723.6" font-size="12.45" text-anchor="middle">Lateral Distance(mm)</text>
<text transform="translate(355.6,536.3) rotate(-90)" font-size="12.45" text-anchor="middle">Normalized Magnitude(dB)</text>
<text x="384.4" y="397.8" font-size="19.2" font-weight="bold" style="fill:#000">d</text>
<rect x="586.6" y="383.6" width="89.60000000000002" height="49.799999999999955" fill="#fff" stroke="#9a9a9a" stroke-width="0.8"/>
<line x1="588.4" y1="390.8" x2="610.8" y2="390.8" stroke="#5b9bd5" stroke-width="1.1"/>
<text x="612.5" y="394.4" font-size="10">DAS</text>
<line x1="588.4" y1="402.6" x2="610.8" y2="402.6" stroke="#ffc8c8" stroke-width="1.1"/>
<text x="612.5" y="406.2" font-size="10">MV</text>
<line x1="588.4" y1="414.3" x2="594.2" y2="414.3" stroke="#22ee22" stroke-width="2.0"/>
<line x1="600.2" y1="414.3" x2="606.0" y2="414.3" stroke="#22ee22" stroke-width="2.0"/>
<text x="612.5" y="417.9" font-size="10">SLSC</text>
<line x1="588.4" y1="426.1" x2="594.2" y2="426.1" stroke="#8a8a8a" stroke-width="1.5"/>
<line x1="600.2" y1="426.1" x2="606.0" y2="426.1" stroke="#8a8a8a" stroke-width="1.5"/>
<text x="612.5" y="429.7" font-size="10">DA-MV SLSC</text>
</g></svg></body></html>
